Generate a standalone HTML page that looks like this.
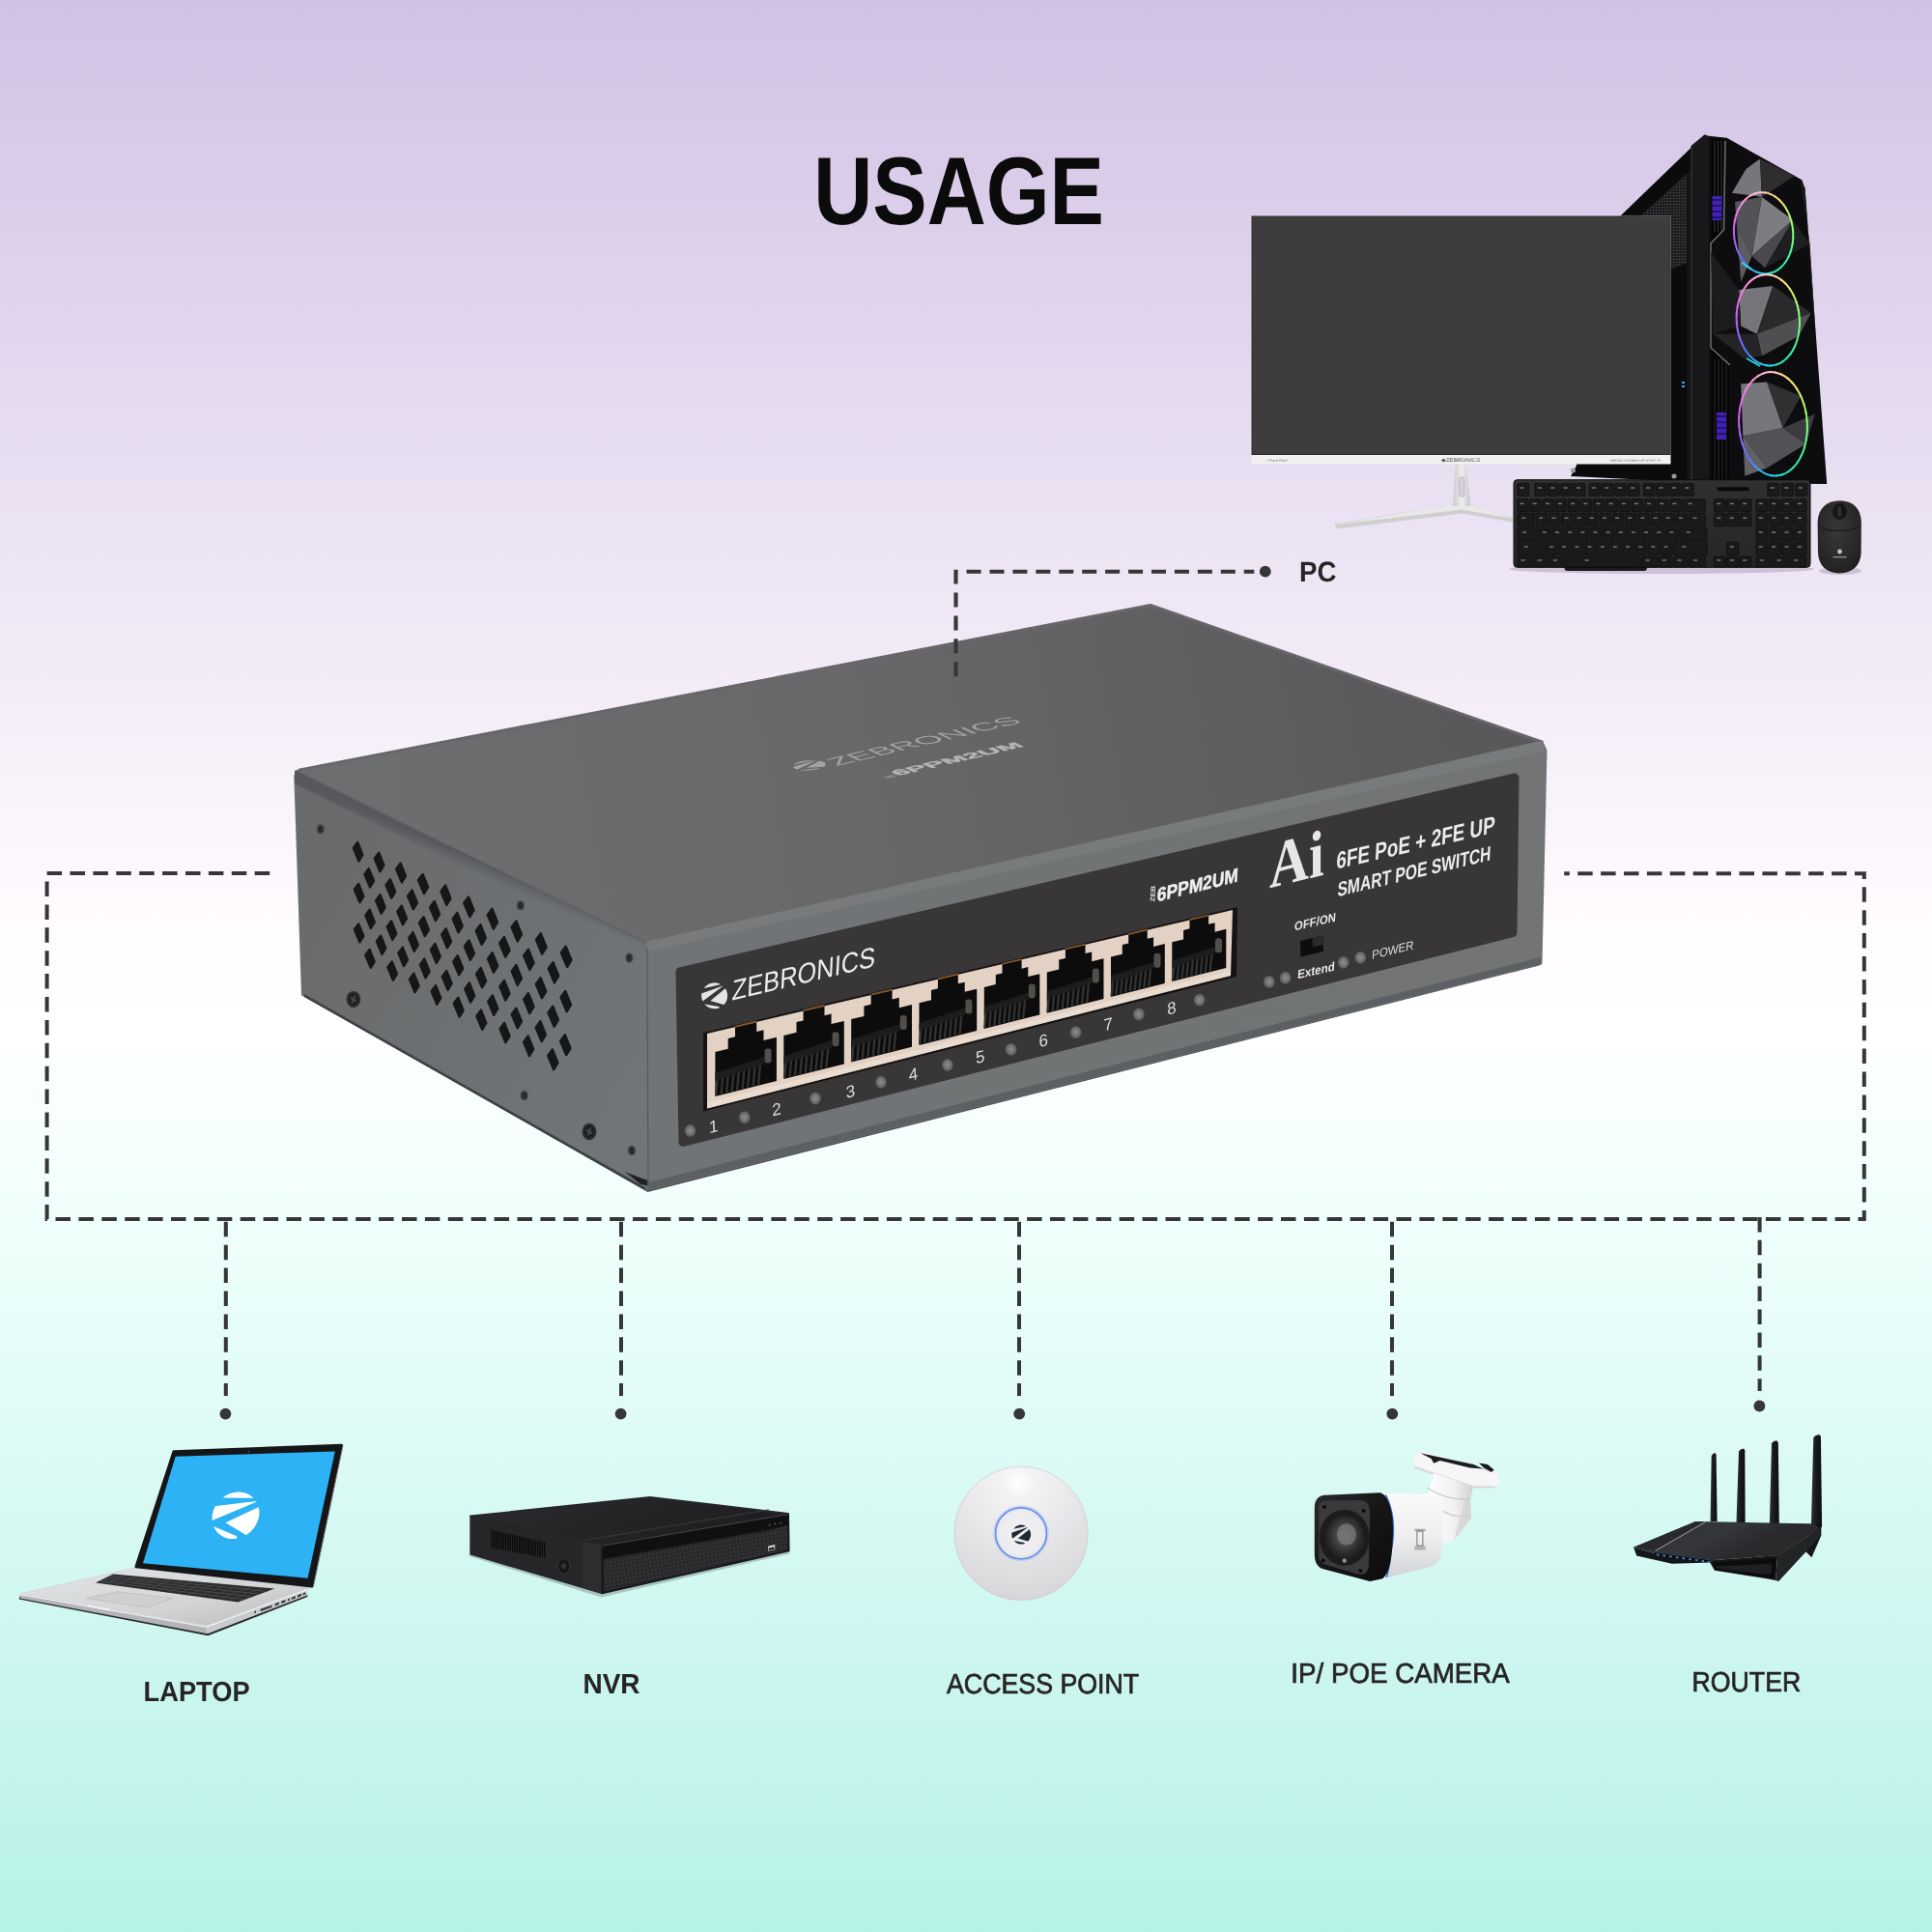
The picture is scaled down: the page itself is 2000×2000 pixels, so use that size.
<!DOCTYPE html>
<html><head><meta charset="utf-8"><title>Usage</title>
<style>
html,body{margin:0;padding:0;width:2000px;height:2000px;overflow:hidden;background:#fff;}
svg{display:block;font-family:"Liberation Sans",sans-serif;}
text{text-rendering:geometricPrecision;}
#all{will-change:transform;}
.serif{font-family:"Liberation Serif",serif;}
</style></head>
<body>
<svg width="2000" height="2000" viewBox="0 0 2000 2000">
<defs>
<linearGradient id="bg" x1="0" y1="0" x2="0" y2="1">
<stop offset="0" stop-color="#d1c1e4"/>
<stop offset="0.47" stop-color="#fefafe"/>
<stop offset="0.53" stop-color="#ffffff"/>
<stop offset="0.62" stop-color="#f1fffc"/>
<stop offset="1" stop-color="#b6f1e8"/>
</linearGradient>

<linearGradient id="swTop" gradientUnits="userSpaceOnUse" x1="400" y1="900" x2="1500" y2="700">
<stop offset="0" stop-color="#6d6e70"/><stop offset="0.45" stop-color="#68686a"/><stop offset="1" stop-color="#59585b"/>
</linearGradient>
<linearGradient id="swLeft" gradientUnits="userSpaceOnUse" x1="306" y1="900" x2="668" y2="1100">
<stop offset="0" stop-color="#686a6c"/><stop offset="1" stop-color="#727577"/>
</linearGradient>
<linearGradient id="swFront" gradientUnits="userSpaceOnUse" x1="668" y1="1100" x2="1600" y2="880">
<stop offset="0" stop-color="#707477"/><stop offset="1" stop-color="#727573"/>
</linearGradient>
<linearGradient id="swLeftSh" gradientUnits="userSpaceOnUse" x1="487" y1="887" x2="481" y2="901"><stop offset="0" stop-color="#55575a" stop-opacity="0.95"/><stop offset="1" stop-color="#5c5f62" stop-opacity="0"/></linearGradient>
<radialGradient id="led"><stop offset="0" stop-color="#8d8d8e"/><stop offset="0.7" stop-color="#6e6e70"/><stop offset="1" stop-color="#555557"/></radialGradient>
<radialGradient id="screw"><stop offset="0" stop-color="#2a2a2c"/><stop offset="0.6" stop-color="#1d1d1f"/><stop offset="1" stop-color="#3a3c3f"/></radialGradient>

<linearGradient id="kbBody" x1="0" y1="0" x2="0" y2="1"><stop offset="0" stop-color="#303030"/><stop offset="1" stop-color="#262626"/></linearGradient>
<radialGradient id="mouseG" cx="0.45" cy="0.4" r="0.8"><stop offset="0" stop-color="#383838"/><stop offset="0.65" stop-color="#262626"/><stop offset="1" stop-color="#141414"/></radialGradient>
<linearGradient id="standG" x1="0" y1="0" x2="1" y2="0"><stop offset="0" stop-color="#c9c9c9"/><stop offset="0.5" stop-color="#efefef"/><stop offset="1" stop-color="#c4c4c4"/></linearGradient>
<pattern id="mesh" width="3" height="3" patternUnits="userSpaceOnUse"><rect width="3" height="3" fill="#1c1c1e"/><circle cx="1.5" cy="1.5" r="0.8" fill="#4a4a4e"/></pattern>

<linearGradient id="lapBase" x1="0" y1="0" x2="1" y2="1"><stop offset="0" stop-color="#e4e5e6"/><stop offset="0.6" stop-color="#d2d3d5"/><stop offset="1" stop-color="#b9babc"/></linearGradient>
<linearGradient id="lapEdge" x1="0" y1="0" x2="1" y2="0"><stop offset="0" stop-color="#8f9092"/><stop offset="1" stop-color="#c9cacc"/></linearGradient>

<linearGradient id="nvrTop" x1="0" y1="0" x2="1" y2="0.3"><stop offset="0" stop-color="#2c2c2e"/><stop offset="1" stop-color="#1e1e20"/></linearGradient>
<pattern id="nvrTex" width="4" height="4" patternUnits="userSpaceOnUse" patternTransform="rotate(-10)"><rect width="4" height="4" fill="#242426"/><path d="M0 2L2 0L4 2L2 4Z" fill="#343437"/></pattern>

<radialGradient id="apG" cx="0.48" cy="0.12" r="0.95"><stop offset="0" stop-color="#ffffff"/><stop offset="0.12" stop-color="#f3f3f4"/><stop offset="0.55" stop-color="#e4e4e6"/><stop offset="0.85" stop-color="#dadadc"/><stop offset="1" stop-color="#d0d0d3"/></radialGradient>
<radialGradient id="apC"><stop offset="0" stop-color="#f2f2f3"/><stop offset="0.86" stop-color="#ececee"/><stop offset="1" stop-color="#dfe3f2"/></radialGradient>

<linearGradient id="camBody" x1="0" y1="0" x2="0" y2="1"><stop offset="0" stop-color="#fbfbfb"/><stop offset="0.55" stop-color="#ededee"/><stop offset="1" stop-color="#d2d3d5"/></linearGradient>
<linearGradient id="camFront" x1="0" y1="0" x2="1" y2="1"><stop offset="0" stop-color="#2a2a2c"/><stop offset="0.5" stop-color="#161617"/><stop offset="1" stop-color="#0c0c0d"/></linearGradient>
<radialGradient id="camLens" cx="0.5" cy="0.45" r="0.6"><stop offset="0" stop-color="#6a6a6e"/><stop offset="0.35" stop-color="#4a4a4d"/><stop offset="0.7" stop-color="#2a2a2c"/><stop offset="1" stop-color="#1a1a1b"/></radialGradient>
<linearGradient id="camArm" x1="0" y1="0" x2="1" y2="0"><stop offset="0" stop-color="#ffffff"/><stop offset="0.6" stop-color="#f0f0f1"/><stop offset="1" stop-color="#cfd0d2"/></linearGradient>

<linearGradient id="rtTop" x1="0" y1="0" x2="1" y2="0.4"><stop offset="0" stop-color="#2c2d30"/><stop offset="0.5" stop-color="#36373a"/><stop offset="1" stop-color="#1d1e20"/></linearGradient>
<linearGradient id="rtAnt" x1="0" y1="0" x2="1" y2="0"><stop offset="0" stop-color="#2e2f32"/><stop offset="0.5" stop-color="#17181a"/><stop offset="1" stop-color="#0e0e10"/></linearGradient>
<pattern id="rtHatch" width="2.4" height="2.4" patternUnits="userSpaceOnUse" patternTransform="rotate(-62)"><rect width="2.4" height="2.4" fill="#1c1d1f"/><rect width="1" height="2.4" fill="#3a3b3e"/></pattern>

</defs>
<rect width="2000" height="2000" fill="url(#bg)"/>
<g id="all">
<!-- TITLE -->
<text x="842.2" y="232" font-size="99.5" font-weight="700" fill="#0b0b0b" textLength="300.7" lengthAdjust="spacingAndGlyphs">USAGE</text>
<!-- LINES -->
<g fill="none" stroke="#363636" stroke-width="4" stroke-dasharray="15.5 8.4">
<path d="M279.2 904.1H48.6V1262.1H991.5"/>
<path d="M1619.2 904.2H1929.8V1262.1H991.3" stroke-dashoffset="9.9"/>
<path d="M233.8 1264.8V1445"/>
<path d="M643 1264.8V1445"/>
<path d="M1055 1264.8V1445"/>
<path d="M1441 1264.8V1445"/>
<path d="M1821.6 1259.9V1440"/>
</g>
<g fill="#363636">
<circle cx="1309.8" cy="591.7" r="5.9"/>
<circle cx="233.4" cy="1463.6" r="5.9"/>
<circle cx="642.6" cy="1463.6" r="5.9"/>
<circle cx="1055.2" cy="1463.6" r="5.9"/>
<circle cx="1441.3" cy="1463.6" r="5.9"/>
<circle cx="1821.4" cy="1455.5" r="5.9"/>
</g>
<!-- LABELS -->
<g fill="#272425" font-size="29">
<text x="1345.1" y="601.7" font-size="29.6" font-weight="700" textLength="38.4" lengthAdjust="spacingAndGlyphs">PC</text>
<text x="148.6" y="1760.5" font-weight="700" textLength="110" lengthAdjust="spacingAndGlyphs">LAPTOP</text>
<text x="603.4" y="1753.2" font-weight="700" textLength="59.2" lengthAdjust="spacingAndGlyphs">NVR</text>
<g stroke="#272425" stroke-width="0.7">
<text x="980" y="1753.2" textLength="199.2" lengthAdjust="spacingAndGlyphs">ACCESS POINT</text>
<text x="1336.3" y="1741.8" textLength="226.5" lengthAdjust="spacingAndGlyphs">IP/ POE CAMERA</text>
<text x="1751.6" y="1750.7" textLength="112.6" lengthAdjust="spacingAndGlyphs">ROUTER</text>
</g>
</g>
<g id="switch"><polygon points="313.0,1030.0 670.5,1234.0 1595.0,999.0 1595.0,991.0 670.5,1225.0" fill="#4b4e50"/><polygon points="306.4,798.6 307.9,798.9 669.5,976.0 670.5,1231.0 313.0,1030.0 305.3,803.8" fill="url(#swLeft)" stroke="#6b6e71" stroke-width="2" stroke-linejoin="round"/><polygon points="310.4,797.0 1191.0,626.5 1596.0,768.0 669.5,976.0 308.4,799.4 307.2,799.0" fill="url(#swTop)" stroke="#67676a" stroke-width="3" stroke-linejoin="round"/><polygon points="669.5,976.0 1596.0,768.0 1600.0,777.0 1595.0,997.0 670.5,1231.0" fill="url(#swFront)" stroke="#717477" stroke-width="3" stroke-linejoin="round"/><polygon points="669.5,975.0 1596.0,767.0 1600.0,778.0 670.5,985.0" fill="#7d7f81" opacity="0.6"/><polygon points="305.0,797.5 669.5,976.0 669.5,992.0 305.0,811.5" fill="url(#swLeftSh)"/><line x1="670.0" y1="982.0" x2="671.0" y2="1228.0" stroke="#575a5d" stroke-width="1.2"/><polygon points="646.7,1213.1 670.3,1222.1 670.3,1227.5 663,1225.8" fill="#1f2123"/><polygon points="315.0,1029.0 667.5,1229.0 667.5,1232.0 315.0,1032.0" fill="#3f4244"/><polygon points="670.5,1224.0 1595.0,991.0 1595.0,998.0 670.5,1232.0" fill="#5d6063"/><polygon points="704.0,1006.0 1568.0,805.0 1566.0,965.5 707.0,1182.5" fill="#383637" stroke="#383637" stroke-width="9" stroke-linejoin="round"/><polygon points="728.0,1069.0 1281.0,939.0 1280.0,1011.0 728.0,1150.5" fill="#151313"/><polygon points="732.0,1070.0 1276.0,942.0 1274.0,1010.0 732.0,1147.5" fill="#e3d1c4"/><polygon points="732.0,1141.5 1274.0,1005.0 1274.0,1010.0 732.0,1147.5" fill="#efe2d6" opacity="0.6"/><polygon points="740.4,1134.9 740.4,1088.9 753.7,1085.7 753.7,1074.9 761.0,1073.2 761.0,1062.8 783.2,1057.6 783.2,1067.9 790.5,1066.2 790.5,1076.9 803.9,1073.7 803.9,1119.0" fill="#0d0c0c"/><polygon points="761.0,1061.9 783.2,1056.6 783.2,1058.5 761.0,1063.7" fill="#8a5a2c"/><line x1="743.1" y1="1111.8" x2="741.1" y2="1134.0" stroke="#353434" stroke-width="2.2"/><line x1="748.6" y1="1110.4" x2="746.6" y2="1132.6" stroke="#353434" stroke-width="2.2"/><line x1="754.1" y1="1109.0" x2="752.1" y2="1131.2" stroke="#353434" stroke-width="2.2"/><line x1="759.6" y1="1107.7" x2="757.6" y2="1129.8" stroke="#353434" stroke-width="2.2"/><line x1="765.1" y1="1106.3" x2="763.1" y2="1128.4" stroke="#353434" stroke-width="2.2"/><line x1="770.6" y1="1105.0" x2="768.6" y2="1127.1" stroke="#353434" stroke-width="2.2"/><line x1="776.1" y1="1103.6" x2="774.1" y2="1125.7" stroke="#353434" stroke-width="2.2"/><line x1="781.6" y1="1102.3" x2="779.6" y2="1124.3" stroke="#353434" stroke-width="2.2"/><line x1="787.1" y1="1100.9" x2="785.1" y2="1122.9" stroke="#353434" stroke-width="2.2"/><polygon points="740.4,1110.6 791.2,1094.3 791.2,1101.9 740.4,1119.1" fill="#1f1e1e" opacity="0.9"/><rect x="791.5" y="1085.4" width="7.0" height="15.0" rx="3" fill="#524e4a"/><polygon points="811.3,1117.1 811.3,1071.9 824.5,1068.7 824.5,1058.1 831.6,1056.4 831.6,1046.2 853.5,1041.0 853.5,1051.2 860.6,1049.5 860.6,1060.0 873.8,1056.9 873.8,1101.4" fill="#0d0c0c"/><polygon points="831.6,1045.3 853.5,1040.1 853.5,1041.9 831.6,1047.1" fill="#8a5a2c"/><line x1="814.1" y1="1094.3" x2="812.1" y2="1116.2" stroke="#353434" stroke-width="2.2"/><line x1="819.5" y1="1093.0" x2="817.5" y2="1114.8" stroke="#353434" stroke-width="2.2"/><line x1="824.9" y1="1091.6" x2="822.9" y2="1113.5" stroke="#353434" stroke-width="2.2"/><line x1="830.3" y1="1090.3" x2="828.3" y2="1112.1" stroke="#353434" stroke-width="2.2"/><line x1="835.7" y1="1089.0" x2="833.7" y2="1110.7" stroke="#353434" stroke-width="2.2"/><line x1="841.1" y1="1087.6" x2="839.1" y2="1109.4" stroke="#353434" stroke-width="2.2"/><line x1="846.5" y1="1086.3" x2="844.5" y2="1108.0" stroke="#353434" stroke-width="2.2"/><line x1="851.9" y1="1085.0" x2="849.9" y2="1106.7" stroke="#353434" stroke-width="2.2"/><line x1="857.3" y1="1083.6" x2="855.3" y2="1105.3" stroke="#353434" stroke-width="2.2"/><polygon points="811.3,1093.2 861.3,1077.1 861.3,1084.7 811.3,1101.5" fill="#1f1e1e" opacity="0.9"/><rect x="861.5" y="1068.2" width="7.0" height="15.0" rx="3" fill="#524e4a"/><polygon points="881.2,1099.5 881.2,1055.1 894.4,1051.9 894.4,1041.5 901.6,1039.8 901.6,1029.7 923.6,1024.6 923.6,1034.5 930.8,1032.8 930.8,1043.2 944.0,1040.0 944.0,1083.8" fill="#0d0c0c"/><polygon points="901.6,1028.8 923.6,1023.7 923.6,1025.4 901.6,1030.6" fill="#8a5a2c"/><line x1="884.0" y1="1077.1" x2="882.0" y2="1098.6" stroke="#353434" stroke-width="2.2"/><line x1="889.4" y1="1075.7" x2="887.4" y2="1097.3" stroke="#353434" stroke-width="2.2"/><line x1="894.8" y1="1074.4" x2="892.8" y2="1095.9" stroke="#353434" stroke-width="2.2"/><line x1="900.3" y1="1073.1" x2="898.3" y2="1094.5" stroke="#353434" stroke-width="2.2"/><line x1="905.7" y1="1071.7" x2="903.7" y2="1093.2" stroke="#353434" stroke-width="2.2"/><line x1="911.1" y1="1070.4" x2="909.1" y2="1091.8" stroke="#353434" stroke-width="2.2"/><line x1="916.6" y1="1069.0" x2="914.6" y2="1090.4" stroke="#353434" stroke-width="2.2"/><line x1="922.0" y1="1067.7" x2="920.0" y2="1089.1" stroke="#353434" stroke-width="2.2"/><line x1="927.4" y1="1066.4" x2="925.4" y2="1087.7" stroke="#353434" stroke-width="2.2"/><polygon points="881.2,1076.0 931.4,1060.0 931.4,1067.4 881.2,1084.2" fill="#1f1e1e" opacity="0.9"/><rect x="931.7" y="1051.1" width="7.0" height="15.0" rx="3" fill="#524e4a"/><polygon points="951.5,1081.9 951.5,1038.2 964.0,1035.2 964.0,1024.9 970.9,1023.3 970.9,1013.4 991.8,1008.5 991.8,1018.3 998.7,1016.7 998.7,1026.8 1011.2,1023.8 1011.2,1066.9" fill="#0d0c0c"/><polygon points="970.9,1012.5 991.8,1007.6 991.8,1009.4 970.9,1014.3" fill="#8a5a2c"/><line x1="954.0" y1="1059.8" x2="952.0" y2="1081.0" stroke="#353434" stroke-width="2.2"/><line x1="959.2" y1="1058.5" x2="957.2" y2="1079.7" stroke="#353434" stroke-width="2.2"/><line x1="964.4" y1="1057.3" x2="962.4" y2="1078.4" stroke="#353434" stroke-width="2.2"/><line x1="969.6" y1="1056.0" x2="967.6" y2="1077.1" stroke="#353434" stroke-width="2.2"/><line x1="974.8" y1="1054.7" x2="972.8" y2="1075.8" stroke="#353434" stroke-width="2.2"/><line x1="980.0" y1="1053.4" x2="978.0" y2="1074.5" stroke="#353434" stroke-width="2.2"/><line x1="985.1" y1="1052.1" x2="983.1" y2="1073.2" stroke="#353434" stroke-width="2.2"/><line x1="990.3" y1="1050.9" x2="988.3" y2="1071.9" stroke="#353434" stroke-width="2.2"/><line x1="995.5" y1="1049.6" x2="993.5" y2="1070.6" stroke="#353434" stroke-width="2.2"/><polygon points="951.5,1058.8 999.3,1043.4 999.3,1050.7 951.5,1066.9" fill="#1f1e1e" opacity="0.9"/><rect x="999.4" y="1034.5" width="7.0" height="15.0" rx="3" fill="#524e4a"/><polygon points="1018.8,1065.0 1018.8,1022.0 1030.8,1019.1 1030.8,1009.0 1037.5,1007.5 1037.5,997.8 1057.6,993.0 1057.6,1002.7 1064.3,1001.1 1064.3,1011.1 1076.3,1008.2 1076.3,1050.5" fill="#0d0c0c"/><polygon points="1037.5,996.9 1057.6,992.2 1057.6,993.9 1037.5,998.6" fill="#8a5a2c"/><line x1="1021.2" y1="1043.2" x2="1019.2" y2="1064.2" stroke="#353434" stroke-width="2.2"/><line x1="1026.2" y1="1042.0" x2="1024.2" y2="1062.9" stroke="#353434" stroke-width="2.2"/><line x1="1031.2" y1="1040.8" x2="1029.2" y2="1061.7" stroke="#353434" stroke-width="2.2"/><line x1="1036.2" y1="1039.6" x2="1034.2" y2="1060.4" stroke="#353434" stroke-width="2.2"/><line x1="1041.2" y1="1038.3" x2="1039.2" y2="1059.1" stroke="#353434" stroke-width="2.2"/><line x1="1046.2" y1="1037.1" x2="1044.2" y2="1057.9" stroke="#353434" stroke-width="2.2"/><line x1="1051.2" y1="1035.9" x2="1049.2" y2="1056.6" stroke="#353434" stroke-width="2.2"/><line x1="1056.2" y1="1034.6" x2="1054.2" y2="1055.4" stroke="#353434" stroke-width="2.2"/><line x1="1061.2" y1="1033.4" x2="1059.2" y2="1054.1" stroke="#353434" stroke-width="2.2"/><polygon points="1018.8,1042.3 1064.8,1027.4 1064.8,1034.5 1018.8,1050.2" fill="#1f1e1e" opacity="0.9"/><rect x="1064.8" y="1018.5" width="7.0" height="15.0" rx="3" fill="#524e4a"/><polygon points="1083.8,1048.7 1083.8,1006.4 1096.2,1003.4 1096.2,993.5 1102.9,991.9 1102.9,982.4 1123.5,977.5 1123.5,987.0 1130.2,985.4 1130.2,995.2 1142.5,992.3 1142.5,1033.9" fill="#0d0c0c"/><polygon points="1102.9,981.5 1123.5,976.7 1123.5,978.4 1102.9,983.2" fill="#8a5a2c"/><line x1="1086.4" y1="1027.2" x2="1084.4" y2="1047.8" stroke="#353434" stroke-width="2.2"/><line x1="1091.5" y1="1025.9" x2="1089.5" y2="1046.5" stroke="#353434" stroke-width="2.2"/><line x1="1096.6" y1="1024.7" x2="1094.6" y2="1045.2" stroke="#353434" stroke-width="2.2"/><line x1="1101.7" y1="1023.4" x2="1099.7" y2="1044.0" stroke="#353434" stroke-width="2.2"/><line x1="1106.7" y1="1022.2" x2="1104.7" y2="1042.7" stroke="#353434" stroke-width="2.2"/><line x1="1111.8" y1="1020.9" x2="1109.8" y2="1041.4" stroke="#353434" stroke-width="2.2"/><line x1="1116.9" y1="1019.7" x2="1114.9" y2="1040.1" stroke="#353434" stroke-width="2.2"/><line x1="1122.0" y1="1018.4" x2="1120.0" y2="1038.9" stroke="#353434" stroke-width="2.2"/><line x1="1127.1" y1="1017.2" x2="1125.1" y2="1037.6" stroke="#353434" stroke-width="2.2"/><polygon points="1083.8,1026.3 1130.8,1011.2 1130.8,1018.3 1083.8,1034.1" fill="#1f1e1e" opacity="0.9"/><rect x="1130.8" y="1002.4" width="7.0" height="15.0" rx="3" fill="#524e4a"/><polygon points="1150.0,1032.0 1150.0,990.5 1161.8,987.7 1161.8,977.9 1168.2,976.4 1168.2,967.0 1187.7,962.4 1187.7,971.8 1194.1,970.2 1194.1,979.9 1205.8,977.1 1205.8,1018.0" fill="#0d0c0c"/><polygon points="1168.2,966.2 1187.7,961.6 1187.7,963.3 1168.2,967.9" fill="#8a5a2c"/><line x1="1152.5" y1="1010.9" x2="1150.5" y2="1031.2" stroke="#353434" stroke-width="2.2"/><line x1="1157.3" y1="1009.7" x2="1155.3" y2="1030.0" stroke="#353434" stroke-width="2.2"/><line x1="1162.1" y1="1008.5" x2="1160.1" y2="1028.8" stroke="#353434" stroke-width="2.2"/><line x1="1167.0" y1="1007.4" x2="1165.0" y2="1027.6" stroke="#353434" stroke-width="2.2"/><line x1="1171.8" y1="1006.2" x2="1169.8" y2="1026.4" stroke="#353434" stroke-width="2.2"/><line x1="1176.6" y1="1005.0" x2="1174.6" y2="1025.1" stroke="#353434" stroke-width="2.2"/><line x1="1181.5" y1="1003.8" x2="1179.5" y2="1023.9" stroke="#353434" stroke-width="2.2"/><line x1="1186.3" y1="1002.6" x2="1184.3" y2="1022.7" stroke="#353434" stroke-width="2.2"/><line x1="1191.2" y1="1001.4" x2="1189.2" y2="1021.5" stroke="#353434" stroke-width="2.2"/><polygon points="1150.0,1010.0 1194.7,995.6 1194.7,1002.5 1150.0,1017.7" fill="#1f1e1e" opacity="0.9"/><rect x="1194.5" y="986.8" width="7.0" height="15.0" rx="3" fill="#524e4a"/><polygon points="1213.3,1016.1 1213.3,975.3 1225.1,972.5 1225.1,962.9 1231.5,961.3 1231.5,952.1 1251.1,947.5 1251.1,956.7 1257.6,955.2 1257.6,964.7 1269.3,961.8 1269.3,1002.1" fill="#0d0c0c"/><polygon points="1231.5,951.3 1251.1,946.7 1251.1,948.3 1231.5,952.9" fill="#8a5a2c"/><line x1="1215.8" y1="995.3" x2="1213.8" y2="1015.3" stroke="#353434" stroke-width="2.2"/><line x1="1220.6" y1="994.1" x2="1218.6" y2="1014.1" stroke="#353434" stroke-width="2.2"/><line x1="1225.5" y1="992.9" x2="1223.5" y2="1012.9" stroke="#353434" stroke-width="2.2"/><line x1="1230.3" y1="991.7" x2="1228.3" y2="1011.7" stroke="#353434" stroke-width="2.2"/><line x1="1235.2" y1="990.6" x2="1233.2" y2="1010.5" stroke="#353434" stroke-width="2.2"/><line x1="1240.0" y1="989.4" x2="1238.0" y2="1009.2" stroke="#353434" stroke-width="2.2"/><line x1="1244.9" y1="988.2" x2="1242.9" y2="1008.0" stroke="#353434" stroke-width="2.2"/><line x1="1249.7" y1="987.0" x2="1247.7" y2="1006.8" stroke="#353434" stroke-width="2.2"/><line x1="1254.6" y1="985.8" x2="1252.6" y2="1005.6" stroke="#353434" stroke-width="2.2"/><polygon points="1213.3,994.5 1258.1,980.1 1258.1,986.9 1213.3,1002.0" fill="#1f1e1e" opacity="0.9"/><rect x="1258.0" y="971.3" width="7.0" height="15.0" rx="3" fill="#524e4a"/><ellipse cx="714.5" cy="1170.5" rx="5.8" ry="6.4" fill="url(#led)"/><ellipse cx="770.7" cy="1156.6" rx="5.8" ry="6.4" fill="url(#led)"/><ellipse cx="844.0" cy="1137.0" rx="5.8" ry="6.4" fill="url(#led)"/><ellipse cx="912.0" cy="1120.2" rx="5.8" ry="6.4" fill="url(#led)"/><ellipse cx="980.9" cy="1102.5" rx="5.8" ry="6.4" fill="url(#led)"/><ellipse cx="1046.6" cy="1086.3" rx="5.8" ry="6.4" fill="url(#led)"/><ellipse cx="1113.7" cy="1068.6" rx="5.8" ry="6.4" fill="url(#led)"/><ellipse cx="1178.9" cy="1050.0" rx="5.8" ry="6.4" fill="url(#led)"/><ellipse cx="1241.7" cy="1035.1" rx="5.8" ry="6.4" fill="url(#led)"/><ellipse cx="1313.8" cy="1016.4" rx="5.8" ry="6.4" fill="url(#led)"/><ellipse cx="1330.6" cy="1012.2" rx="5.8" ry="6.4" fill="url(#led)"/><ellipse cx="1390.7" cy="996.3" rx="5.8" ry="6.4" fill="url(#led)"/><ellipse cx="1408.3" cy="991.3" rx="5.8" ry="6.4" fill="url(#led)"/><text transform="matrix(0.97 -0.24 0.05 1 738.7 1165.9)" x="0" y="6.2" font-size="17.5" text-anchor="middle" fill="#dcdcdc">1</text><text transform="matrix(0.97 -0.24 0.05 1 803.9 1148.2)" x="0" y="6.2" font-size="17.5" text-anchor="middle" fill="#dcdcdc">2</text><text transform="matrix(0.97 -0.24 0.05 1 880.3 1129.6)" x="0" y="6.2" font-size="17.5" text-anchor="middle" fill="#dcdcdc">3</text><text transform="matrix(0.97 -0.24 0.05 1 945.5 1111.9)" x="0" y="6.2" font-size="17.5" text-anchor="middle" fill="#dcdcdc">4</text><text transform="matrix(0.97 -0.24 0.05 1 1014.7 1094.0)" x="0" y="6.2" font-size="17.5" text-anchor="middle" fill="#dcdcdc">5</text><text transform="matrix(0.97 -0.24 0.05 1 1080.1 1077.0)" x="0" y="6.2" font-size="17.5" text-anchor="middle" fill="#dcdcdc">6</text><text transform="matrix(0.97 -0.24 0.05 1 1147.2 1060.2)" x="0" y="6.2" font-size="17.5" text-anchor="middle" fill="#dcdcdc">7</text><text transform="matrix(0.97 -0.24 0.05 1 1213.0 1043.5)" x="0" y="6.2" font-size="17.5" text-anchor="middle" fill="#dcdcdc">8</text><g transform="translate(739.6 1030.8) rotate(-13.0) skewX(0.0) scale(0.270)"><clipPath id="zc1"><circle r="50"/></clipPath><g clip-path="url(#zc1)" fill="#e4e4e4"><path d="M-60 -60H60V-37.5Q0 -35.5 -60 -38.5Z"/><path d="M-60 -19L-44.3 -20.2Q-5 -24.5 40.5 -30.2L40.5 -28.6L-60 15.6Z"/><path d="M-19.7 15.4L60 -24.6V60.2Z"/><path d="M-60 17L7.9 44.2L9 60H-60Z"/></g></g><text transform="matrix(0.9724 -0.2334 -0.0523 0.9986 757.3 1035.8)" font-size="29.5" font-weight="400" fill="#ececec" textLength="152.5" lengthAdjust="spacingAndGlyphs" >ZEBRONICS</text><text transform="matrix(0.9703 -0.2419 -0.0523 0.9986 1197.6 933.4)" font-size="20.2" font-weight="700" fill="#efefef" textLength="86.5" lengthAdjust="spacingAndGlyphs" stroke="#efefef" stroke-width="0.5">6PPM2UM</text><text transform="matrix(0.05 -1 1 0.05 1195.3 933.6)" font-size="6.6" font-weight="700" fill="#e6e6e6" textLength="16.5" lengthAdjust="spacingAndGlyphs">ZEB</text><text transform="matrix(0.9703 -0.2419 -0.0000 1.0000 1313.9 919.6)" font-size="68.5" font-weight="700" fill="#e9e7e6" textLength="58.5" lengthAdjust="spacingAndGlyphs" class="serif" >Ai</text><text transform="matrix(0.9744 -0.2250 -0.0523 0.9986 1382.9 899.8)" font-size="25.0" font-weight="700" fill="#ececec" textLength="168.8" lengthAdjust="spacingAndGlyphs" >6FE PoE + 2FE UP</text><text transform="matrix(0.9728 -0.2317 -0.0523 0.9986 1384.2 928.2)" font-size="21.3" font-weight="700" fill="#ececec" textLength="163.3" lengthAdjust="spacingAndGlyphs" >SMART POE SWITCH</text><text transform="matrix(0.9744 -0.2250 -0.0523 0.9986 1339.8 963.5)" font-size="12.8" font-weight="700" fill="#e8e8e8" textLength="44.0" lengthAdjust="spacingAndGlyphs" >OFF/ON</text><text transform="matrix(0.9763 -0.2164 -0.0523 0.9986 1343.0 1013.2)" font-size="13.0" font-weight="700" fill="#e8e8e8" textLength="39.5" lengthAdjust="spacingAndGlyphs" >Extend</text><text transform="matrix(0.9724 -0.2334 -0.0523 0.9986 1420.0 992.9)" font-size="12.8" font-weight="400" fill="#dedede" textLength="44.5" lengthAdjust="spacingAndGlyphs" >POWER</text><polygon points="1346.0,974.0 1369.5,968.5 1370.0,985.0 1346.5,990.5" fill="#0e0d0d"/><polygon points="1358.5,971.3 1369.5,968.7 1369.8,978.0 1358.8,980.6" fill="#2c2a2a"/><g fill="#161718" stroke="#161718" stroke-width="2.4" stroke-linejoin="round"><polygon points="365.8,877.9 370.2,871.9 375.4,884.9 371.4,891.3"/><polygon points="387.7,888.6 392.2,882.6 397.4,895.7 393.4,902.2"/><polygon points="410.1,899.7 414.6,893.6 419.9,906.8 415.9,913.4"/><polygon points="433.0,911.0 437.6,904.9 443.0,918.3 438.9,925.0"/><polygon points="456.5,922.8 461.1,916.5 466.5,930.1 462.3,936.9"/><polygon points="480.3,934.8 485.0,928.5 490.5,942.2 486.3,949.1"/><polygon points="504.7,947.1 509.4,940.8 515.0,954.6 510.8,961.6"/><polygon points="529.6,959.8 534.4,953.4 540.0,967.4 535.7,974.4"/><polygon points="555.0,972.8 559.8,966.3 565.5,980.5 561.1,987.6"/><polygon points="580.8,986.2 585.7,979.6 591.5,993.9 587.1,1001.1"/><polygon points="377.4,905.1 381.8,899.1 387.0,912.0 383.1,918.5"/><polygon points="399.5,916.1 404.0,910.1 409.2,923.2 405.2,929.7"/><polygon points="422.1,927.5 426.6,921.4 431.9,934.6 427.8,941.3"/><polygon points="445.1,939.2 449.7,933.0 455.0,946.4 450.9,953.1"/><polygon points="468.7,951.2 473.3,945.0 478.7,958.6 474.5,965.3"/><polygon points="492.7,963.6 497.4,957.3 502.8,971.0 498.6,977.9"/><polygon points="517.2,976.3 521.9,969.9 527.5,983.8 523.2,990.7"/><polygon points="542.2,989.3 547.0,982.8 552.6,996.9 548.3,1003.9"/><polygon points="567.7,1002.6 572.6,996.1 578.2,1010.3 573.9,1017.4"/><polygon points="366.9,920.8 371.2,915.0 376.3,927.8 372.4,934.1"/><polygon points="389.1,932.2 393.5,926.3 398.7,939.2 394.7,945.7"/><polygon points="411.3,943.6 415.7,937.6 421.0,950.7 417.0,957.2"/><polygon points="434.0,955.3 438.5,949.2 443.8,962.5 439.7,969.1"/><polygon points="457.2,967.4 461.7,961.2 467.1,974.6 463.0,981.3"/><polygon points="480.9,979.7 485.5,973.5 490.9,987.0 486.7,993.8"/><polygon points="505.0,992.4 509.7,986.1 515.2,999.8 511.0,1006.7"/><polygon points="529.7,1005.4 534.4,999.0 540.0,1012.9 535.7,1019.8"/><polygon points="554.9,1018.7 559.6,1012.3 565.2,1026.3 560.9,1033.3"/><polygon points="580.5,1032.4 585.3,1025.9 591.0,1040.1 586.7,1047.2"/><polygon points="378.4,947.7 382.7,941.8 387.8,954.6 383.9,961.0"/><polygon points="400.7,959.4 405.1,953.5 410.3,966.4 406.3,972.9"/><polygon points="423.1,971.1 427.5,965.1 432.8,978.2 428.8,984.7"/><polygon points="445.9,983.1 450.4,977.0 455.7,990.3 451.7,996.9"/><polygon points="469.2,995.5 473.8,989.3 479.2,1002.7 475.1,1009.4"/><polygon points="493.1,1008.2 497.7,1002.0 503.1,1015.5 499.0,1022.3"/><polygon points="517.4,1021.2 522.0,1014.9 527.5,1028.6 523.3,1035.5"/><polygon points="542.2,1034.5 546.9,1028.2 552.5,1042.0 548.2,1049.0"/><polygon points="567.5,1048.2 572.3,1041.7 577.9,1055.8 573.6,1062.8"/><polygon points="366.9,962.2 371.2,956.4 376.3,969.0 372.4,975.3"/><polygon points="389.9,974.5 394.2,968.7 399.3,981.4 395.4,987.8"/><polygon points="412.4,986.6 416.8,980.6 422.0,993.6 418.0,1000.0"/><polygon points="434.9,998.6 439.3,992.6 444.6,1005.7 440.5,1012.2"/><polygon points="457.8,1011.0 462.3,1004.9 467.6,1018.1 463.6,1024.8"/><polygon points="481.3,1023.7 485.9,1017.5 491.2,1030.9 487.1,1037.6"/><polygon points="505.3,1036.7 509.9,1030.4 515.3,1044.0 511.2,1050.8"/><polygon points="529.7,1050.0 534.4,1043.7 539.9,1057.4 535.7,1064.3"/><polygon points="554.7,1063.7 559.4,1057.3 564.9,1071.2 560.7,1078.1"/><polygon points="580.1,1077.7 584.9,1071.2 590.5,1085.2 586.2,1092.2"/><polygon points="378.3,988.7 382.6,982.9 387.6,995.5 383.8,1001.8"/><polygon points="401.4,1001.4 405.7,995.5 410.9,1008.3 406.9,1014.7"/><polygon points="424.0,1013.8 428.4,1007.8 433.6,1020.7 429.6,1027.2"/><polygon points="446.6,1026.1 451.1,1020.1 456.3,1033.2 452.3,1039.7"/><polygon points="469.8,1038.8 474.3,1032.7 479.6,1046.0 475.5,1052.6"/><polygon points="493.4,1051.8 497.9,1045.6 503.3,1059.0 499.2,1065.8"/><polygon points="517.5,1065.1 522.1,1058.9 527.5,1072.5 523.4,1079.2"/><polygon points="542.1,1078.8 546.7,1072.5 552.2,1086.2 548.0,1093.1"/><polygon points="567.2,1092.8 571.9,1086.4 577.4,1100.3 573.2,1107.2"/></g><ellipse cx="365.9" cy="1034.5" rx="7.5" ry="8.8" fill="url(#screw)"/><path d="M362.9 1032.5l6.0 4.0M367.4 1030.5l-3.0 8.0" stroke="#4a4c4f" stroke-width="1.6"/><ellipse cx="610.0" cy="1171.5" rx="7.6" ry="9.0" fill="url(#screw)"/><path d="M607.0 1169.5l6.0 4.0M611.5 1167.5l-3.0 8.0" stroke="#4a4c4f" stroke-width="1.6"/><ellipse cx="331.8" cy="858.3" rx="3.6" ry="4.6" fill="#2a2c2e" stroke="#4d5154" stroke-width="1.4"/><ellipse cx="538.8" cy="937.3" rx="3.6" ry="4.6" fill="#2a2c2e" stroke="#4d5154" stroke-width="1.4"/><ellipse cx="651.4" cy="991.6" rx="3.6" ry="4.6" fill="#2a2c2e" stroke="#4d5154" stroke-width="1.4"/><ellipse cx="542.7" cy="1134.0" rx="3.6" ry="4.6" fill="#2a2c2e" stroke="#4d5154" stroke-width="1.4"/><ellipse cx="654.0" cy="1191.0" rx="3.6" ry="4.6" fill="#2a2c2e" stroke="#4d5154" stroke-width="1.4"/><text transform="matrix(0.9736 -0.2284 0.5582 0.2698 866.0 793.0)" font-size="34.0" font-weight="400" fill="#a0a0a2" textLength="199.0" lengthAdjust="spacingAndGlyphs">ZEBRONICS</text><text stroke="#b4b4b6" stroke-width="0.9" transform="matrix(0.9736 -0.2284 0.5582 0.2698 929.5 803.3)" font-size="24.0" font-weight="700" fill="#b4b4b6" textLength="135.0" lengthAdjust="spacingAndGlyphs">6PPM2UM</text><text transform="matrix(0.9736 -0.2284 0.5582 0.2698 918.0 806.0)" font-size="9.0" font-weight="700" fill="#a8a8a4" textLength="10.0" lengthAdjust="spacingAndGlyphs">ZEB</text><g transform="matrix(0.9736 -0.2284 0.5582 0.2698 844.5 795.5)"><g transform="scale(1)"><g transform="translate(0.0 -12.0) rotate(0.0) skewX(0.0) scale(0.300)"><clipPath id="zc2"><circle r="50"/></clipPath><g clip-path="url(#zc2)" fill="#a2a2a4"><path d="M-60 -60H60V-37.5Q0 -35.5 -60 -38.5Z"/><path d="M-60 -19L-44.3 -20.2Q-5 -24.5 40.5 -30.2L40.5 -28.6L-60 15.6Z"/><path d="M-19.7 15.4L60 -24.6V60.2Z"/><path d="M-60 17L7.9 44.2L9 60H-60Z"/></g></g></g></g></g><path d="M989.5 700.3V591.7H1298.3" fill="none" stroke="#363636" stroke-width="4.1" stroke-dasharray="15 8.93"/><g id="pc"><polygon points="1764.5,139.5 1679.0,222.0 1640.0,262.0 1632.0,482.0 1626.0,493.0 1769.0,500.0 1769.0,141.0" fill="#0b0b0c"/><polygon points="1746.0,180.0 1700.0,222.0 1700.0,278.0 1732.0,278.0 1746.0,272.0" fill="url(#mesh)"/><polygon points="1746.0,180.0 1750.5,176.0 1750.5,500.0 1746.0,500.0" fill="#141416"/><polygon points="1750.5,151.0 1764.5,139.5 1769.0,141.0 1769.0,500.0 1750.5,499.0" fill="#18181a"/><line x1="1751" y1="152" x2="1751" y2="498" stroke="#3a3a3d" stroke-width="1"/><polygon points="1769.0,140.7 1787.7,142.8 1865.3,186.3 1868.6,195.0 1891.2,501.0 1769.0,500.0" fill="#0d0d0f"/><polygon points="1772.0,143.0 1784.0,144.0 1784.0,236.0 1772.0,252.0" fill="#050506"/><line x1="1775.0" y1="146" x2="1775.0" y2="240" stroke="#3c3c40" stroke-width="0.9"/><line x1="1778.5" y1="146" x2="1778.5" y2="240" stroke="#3c3c40" stroke-width="0.9"/><line x1="1782.0" y1="146" x2="1782.0" y2="240" stroke="#3c3c40" stroke-width="0.9"/><polygon points="1772.0,362.0 1790.0,378.0 1790.0,499.0 1772.0,499.0" fill="#050506"/><line x1="1775.0" y1="372" x2="1775.0" y2="497" stroke="#2c2c30" stroke-width="0.9"/><line x1="1779.0" y1="372" x2="1779.0" y2="497" stroke="#2c2c30" stroke-width="0.9"/><line x1="1783.0" y1="372" x2="1783.0" y2="497" stroke="#2c2c30" stroke-width="0.9"/><line x1="1787.0" y1="372" x2="1787.0" y2="497" stroke="#2c2c30" stroke-width="0.9"/><rect x="1772.5" y="203" width="10" height="25" fill="#4a22c8" opacity="0.9"/><rect x="1777" y="427" width="10" height="28" fill="#4a22c8" opacity="0.9"/><line x1="1772" y1="207" x2="1783" y2="207" stroke="#120a40" stroke-width="1.2"/><line x1="1772" y1="213" x2="1783" y2="213" stroke="#120a40" stroke-width="1.2"/><line x1="1772" y1="219" x2="1783" y2="219" stroke="#120a40" stroke-width="1.2"/><line x1="1772" y1="225" x2="1783" y2="225" stroke="#120a40" stroke-width="1.2"/><line x1="1776" y1="431" x2="1788" y2="431" stroke="#120a40" stroke-width="1.2"/><line x1="1776" y1="437" x2="1788" y2="437" stroke="#120a40" stroke-width="1.2"/><line x1="1776" y1="443" x2="1788" y2="443" stroke="#120a40" stroke-width="1.2"/><line x1="1776" y1="449" x2="1788" y2="449" stroke="#120a40" stroke-width="1.2"/><polyline points="1786.0,146.0 1784.5,238.0 1771.0,252.0 1771.0,360.0 1791.0,378.0" fill="none" stroke="#6f6f74" stroke-width="1.5"/><polygon points="1807.4,174.9 1821.9,164.5 1823.9,203.9 1792.9,199.7" fill="#77777b" opacity="1"/><polygon points="1821.9,164.5 1858.1,182.1 1823.9,203.9" fill="#2e2e31" opacity="1"/><polygon points="1823.9,203.9 1856.0,227.7 1813.6,264.9" fill="#8a8a8e" opacity="0.9"/><polygon points="1823.9,203.9 1813.6,264.9 1798.1,235.9 1796.0,209.0" fill="#5b5b5f" opacity="0.9"/><polygon points="1813.6,264.9 1856.0,227.7 1827.0,277.3" fill="#4a4a4e" opacity="1"/><polygon points="1798.1,235.9 1813.6,264.9 1802.2,291.8" fill="#727276" opacity="0.8"/><polygon points="1856.0,227.7 1873.6,252.5 1827.0,277.3" fill="#1f1f22" opacity="1"/><polygon points="1800.1,300.1 1835.3,296.0 1818.8,345.7 1802.2,337.4" fill="#828286" opacity="0.9"/><polygon points="1835.3,296.0 1874.7,323.9 1818.8,345.7" fill="#2a2a2d" opacity="1"/><polygon points="1818.8,345.7 1874.7,323.9 1862.2,347.7 1823.9,368.4" fill="#56565a" opacity="0.9"/><polygon points="1773.2,345.7 1818.8,345.7 1823.9,368.4 1806.3,371.6" fill="#242427" opacity="1"/><polygon points="1771.1,260.8 1800.1,300.1 1802.2,337.4 1773.2,345.7" fill="#1c1c1f" opacity="1"/><polygon points="1802.2,397.4 1829.1,395.4 1845.7,443.0 1804.3,451.3" fill="#828287" opacity="0.9"/><polygon points="1829.1,395.4 1864.3,409.9 1845.7,443.0" fill="#303033" opacity="1"/><polygon points="1845.7,443.0 1869.5,459.5 1829.1,484.4 1804.3,451.3" fill="#5f5f63" opacity="0.85"/><polygon points="1845.7,443.0 1878.8,428.5 1869.5,459.5" fill="#3c3c40" opacity="1"/><polygon points="1804.3,451.3 1829.1,484.4 1806.3,492.7" fill="#77777b" opacity="0.8"/><polygon points="1864.3,188.3 1868.4,194.5 1880.9,368.4 1873.6,252.5" fill="#1e1e21" opacity="1"/><g transform="translate(1825.6 241.3) rotate(-5.0)" fill="none" stroke-width="2.0" stroke-linecap="butt"><path d="M-0.53 -42.19A30.6 42.2 0 0 1 5.84 -41.42" stroke="rgb(255,204,200)"/><path d="M4.79 -41.68A30.6 42.2 0 0 1 10.97 -39.40" stroke="rgb(255,212,171)"/><path d="M9.96 -39.90A30.6 42.2 0 0 1 15.76 -36.17" stroke="rgb(255,220,143)"/><path d="M14.84 -36.91A30.6 42.2 0 0 1 20.08 -31.85" stroke="rgb(255,228,114)"/><path d="M19.26 -32.80A30.6 42.2 0 0 1 23.78 -26.56" stroke="rgb(242,234,101)"/><path d="M23.09 -27.69A30.6 42.2 0 0 1 26.76 -20.46" stroke="rgb(218,238,105)"/><path d="M26.23 -21.73A30.6 42.2 0 0 1 28.93 -13.74" stroke="rgb(193,242,109)"/><path d="M28.57 -15.12A30.6 42.2 0 0 1 30.22 -6.60" stroke="rgb(169,246,112)"/><path d="M30.04 -8.05A30.6 42.2 0 0 1 30.60 0.74" stroke="rgb(144,250,116)"/><path d="M30.60 -0.74A30.6 42.2 0 0 1 30.04 8.05" stroke="rgb(120,255,120)"/><path d="M30.22 6.60A30.6 42.2 0 0 1 28.57 15.12" stroke="rgb(105,251,129)"/><path d="M28.93 13.74A30.6 42.2 0 0 1 26.23 21.73" stroke="rgb(90,247,138)"/><path d="M26.76 20.46A30.6 42.2 0 0 1 23.09 27.69" stroke="rgb(76,244,147)"/><path d="M23.78 26.56A30.6 42.2 0 0 1 19.26 32.80" stroke="rgb(61,240,156)"/><path d="M20.08 31.85A30.6 42.2 0 0 1 14.84 36.91" stroke="rgb(47,236,165)"/><path d="M15.76 36.17A30.6 42.2 0 0 1 9.96 39.90" stroke="rgb(40,232,178)"/><path d="M10.97 39.40A30.6 42.2 0 0 1 4.79 41.68" stroke="rgb(40,227,194)"/><path d="M5.84 41.42A30.6 42.2 0 0 1 -0.53 42.19" stroke="rgb(40,222,210)"/><path d="M0.53 42.19A30.6 42.2 0 0 1 -5.84 41.42" stroke="rgb(40,217,226)"/><path d="M-4.79 41.68A30.6 42.2 0 0 1 -10.97 39.40" stroke="rgb(45,203,237)"/><path d="M-9.96 39.90A30.6 42.2 0 0 1 -15.76 36.17" stroke="rgb(56,180,241)"/><path d="M-14.84 36.91A30.6 42.2 0 0 1 -20.08 31.85" stroke="rgb(67,156,246)"/><path d="M-19.26 32.80A30.6 42.2 0 0 1 -23.78 26.56" stroke="rgb(78,133,250)"/><path d="M-23.09 27.69A30.6 42.2 0 0 1 -26.76 20.46" stroke="rgb(90,110,255)"/><path d="M-26.23 21.73A30.6 42.2 0 0 1 -28.93 13.74" stroke="rgb(115,107,252)"/><path d="M-28.57 15.12A30.6 42.2 0 0 1 -30.22 6.60" stroke="rgb(140,104,249)"/><path d="M-30.04 8.05A30.6 42.2 0 0 1 -30.60 -0.74" stroke="rgb(165,101,246)"/><path d="M-30.60 0.74A30.6 42.2 0 0 1 -30.04 -8.05" stroke="rgb(190,98,243)"/><path d="M-30.22 -6.60A30.6 42.2 0 0 1 -28.57 -15.12" stroke="rgb(215,95,240)"/><path d="M-28.93 -13.74A30.6 42.2 0 0 1 -26.23 -21.73" stroke="rgb(223,107,233)"/><path d="M-26.76 -20.46A30.6 42.2 0 0 1 -23.09 -27.69" stroke="rgb(232,119,226)"/><path d="M-23.78 -26.56A30.6 42.2 0 0 1 -19.26 -32.80" stroke="rgb(241,131,220)"/><path d="M-20.08 -31.85A30.6 42.2 0 0 1 -14.84 -36.91" stroke="rgb(250,143,213)"/><path d="M-15.76 -36.17A30.6 42.2 0 0 1 -9.96 -39.90" stroke="rgb(255,158,210)"/><path d="M-10.97 -39.40A30.6 42.2 0 0 1 -4.79 -41.68" stroke="rgb(255,175,212)"/><path d="M-5.84 -41.42A30.6 42.2 0 0 1 0.53 -42.19" stroke="rgb(255,191,214)"/></g><g transform="translate(1830.3 331.4) rotate(-4.0)" fill="none" stroke-width="2.0" stroke-linecap="butt"><path d="M-0.57 -47.19A32.6 47.2 0 0 1 6.22 -46.33" stroke="rgb(255,204,200)"/><path d="M5.10 -46.62A32.6 47.2 0 0 1 11.68 -44.06" stroke="rgb(255,212,171)"/><path d="M10.61 -44.63A32.6 47.2 0 0 1 16.79 -40.46" stroke="rgb(255,220,143)"/><path d="M15.80 -41.28A32.6 47.2 0 0 1 21.39 -35.62" stroke="rgb(255,228,114)"/><path d="M20.52 -36.68A32.6 47.2 0 0 1 25.33 -29.70" stroke="rgb(242,234,101)"/><path d="M24.60 -30.97A32.6 47.2 0 0 1 28.51 -22.88" stroke="rgb(218,238,105)"/><path d="M27.94 -24.31A32.6 47.2 0 0 1 30.82 -15.37" stroke="rgb(193,242,109)"/><path d="M30.43 -16.91A32.6 47.2 0 0 1 32.20 -7.38" stroke="rgb(169,246,112)"/><path d="M32.00 -9.01A32.6 47.2 0 0 1 32.60 0.82" stroke="rgb(144,250,116)"/><path d="M32.60 -0.82A32.6 47.2 0 0 1 32.00 9.01" stroke="rgb(120,255,120)"/><path d="M32.20 7.38A32.6 47.2 0 0 1 30.43 16.91" stroke="rgb(105,251,129)"/><path d="M30.82 15.37A32.6 47.2 0 0 1 27.94 24.31" stroke="rgb(90,247,138)"/><path d="M28.51 22.88A32.6 47.2 0 0 1 24.60 30.97" stroke="rgb(76,244,147)"/><path d="M25.33 29.70A32.6 47.2 0 0 1 20.52 36.68" stroke="rgb(61,240,156)"/><path d="M21.39 35.62A32.6 47.2 0 0 1 15.80 41.28" stroke="rgb(47,236,165)"/><path d="M16.79 40.46A32.6 47.2 0 0 1 10.61 44.63" stroke="rgb(40,232,178)"/><path d="M11.68 44.06A32.6 47.2 0 0 1 5.10 46.62" stroke="rgb(40,227,194)"/><path d="M6.22 46.33A32.6 47.2 0 0 1 -0.57 47.19" stroke="rgb(40,222,210)"/><path d="M0.57 47.19A32.6 47.2 0 0 1 -6.22 46.33" stroke="rgb(40,217,226)"/><path d="M-5.10 46.62A32.6 47.2 0 0 1 -11.68 44.06" stroke="rgb(45,203,237)"/><path d="M-10.61 44.63A32.6 47.2 0 0 1 -16.79 40.46" stroke="rgb(56,180,241)"/><path d="M-15.80 41.28A32.6 47.2 0 0 1 -21.39 35.62" stroke="rgb(67,156,246)"/><path d="M-20.52 36.68A32.6 47.2 0 0 1 -25.33 29.70" stroke="rgb(78,133,250)"/><path d="M-24.60 30.97A32.6 47.2 0 0 1 -28.51 22.88" stroke="rgb(90,110,255)"/><path d="M-27.94 24.31A32.6 47.2 0 0 1 -30.82 15.37" stroke="rgb(115,107,252)"/><path d="M-30.43 16.91A32.6 47.2 0 0 1 -32.20 7.38" stroke="rgb(140,104,249)"/><path d="M-32.00 9.01A32.6 47.2 0 0 1 -32.60 -0.82" stroke="rgb(165,101,246)"/><path d="M-32.60 0.82A32.6 47.2 0 0 1 -32.00 -9.01" stroke="rgb(190,98,243)"/><path d="M-32.20 -7.38A32.6 47.2 0 0 1 -30.43 -16.91" stroke="rgb(215,95,240)"/><path d="M-30.82 -15.37A32.6 47.2 0 0 1 -27.94 -24.31" stroke="rgb(223,107,233)"/><path d="M-28.51 -22.88A32.6 47.2 0 0 1 -24.60 -30.97" stroke="rgb(232,119,226)"/><path d="M-25.33 -29.70A32.6 47.2 0 0 1 -20.52 -36.68" stroke="rgb(241,131,220)"/><path d="M-21.39 -35.62A32.6 47.2 0 0 1 -15.80 -41.28" stroke="rgb(250,143,213)"/><path d="M-16.79 -40.46A32.6 47.2 0 0 1 -10.61 -44.63" stroke="rgb(255,158,210)"/><path d="M-11.68 -44.06A32.6 47.2 0 0 1 -5.10 -46.62" stroke="rgb(255,175,212)"/><path d="M-6.22 -46.33A32.6 47.2 0 0 1 0.57 -47.19" stroke="rgb(255,191,214)"/></g><g transform="translate(1835.5 438.8) rotate(-4.0)" fill="none" stroke-width="2.0" stroke-linecap="butt"><path d="M-0.62 -53.79A35.3 53.8 0 0 1 6.74 -52.81" stroke="rgb(255,204,200)"/><path d="M5.52 -53.14A35.3 53.8 0 0 1 12.65 -50.23" stroke="rgb(255,212,171)"/><path d="M11.49 -50.87A35.3 53.8 0 0 1 18.18 -46.12" stroke="rgb(255,220,143)"/><path d="M17.11 -47.05A35.3 53.8 0 0 1 23.16 -40.60" stroke="rgb(255,228,114)"/><path d="M22.22 -41.81A35.3 53.8 0 0 1 27.43 -33.86" stroke="rgb(242,234,101)"/><path d="M26.64 -35.30A35.3 53.8 0 0 1 30.87 -26.08" stroke="rgb(218,238,105)"/><path d="M30.26 -27.71A35.3 53.8 0 0 1 33.38 -17.52" stroke="rgb(193,242,109)"/><path d="M32.96 -19.28A35.3 53.8 0 0 1 34.87 -8.42" stroke="rgb(169,246,112)"/><path d="M34.65 -10.27A35.3 53.8 0 0 1 35.29 0.94" stroke="rgb(144,250,116)"/><path d="M35.29 -0.94A35.3 53.8 0 0 1 34.65 10.27" stroke="rgb(120,255,120)"/><path d="M34.87 8.42A35.3 53.8 0 0 1 32.96 19.28" stroke="rgb(105,251,129)"/><path d="M33.38 17.52A35.3 53.8 0 0 1 30.26 27.71" stroke="rgb(90,247,138)"/><path d="M30.87 26.08A35.3 53.8 0 0 1 26.64 35.30" stroke="rgb(76,244,147)"/><path d="M27.43 33.86A35.3 53.8 0 0 1 22.22 41.81" stroke="rgb(61,240,156)"/><path d="M23.16 40.60A35.3 53.8 0 0 1 17.11 47.05" stroke="rgb(47,236,165)"/><path d="M18.18 46.12A35.3 53.8 0 0 1 11.49 50.87" stroke="rgb(40,232,178)"/><path d="M12.65 50.23A35.3 53.8 0 0 1 5.52 53.14" stroke="rgb(40,227,194)"/><path d="M6.74 52.81A35.3 53.8 0 0 1 -0.62 53.79" stroke="rgb(40,222,210)"/><path d="M0.62 53.79A35.3 53.8 0 0 1 -6.74 52.81" stroke="rgb(40,217,226)"/><path d="M-5.52 53.14A35.3 53.8 0 0 1 -12.65 50.23" stroke="rgb(45,203,237)"/><path d="M-11.49 50.87A35.3 53.8 0 0 1 -18.18 46.12" stroke="rgb(56,180,241)"/><path d="M-17.11 47.05A35.3 53.8 0 0 1 -23.16 40.60" stroke="rgb(67,156,246)"/><path d="M-22.22 41.81A35.3 53.8 0 0 1 -27.43 33.86" stroke="rgb(78,133,250)"/><path d="M-26.64 35.30A35.3 53.8 0 0 1 -30.87 26.08" stroke="rgb(90,110,255)"/><path d="M-30.26 27.71A35.3 53.8 0 0 1 -33.38 17.52" stroke="rgb(115,107,252)"/><path d="M-32.96 19.28A35.3 53.8 0 0 1 -34.87 8.42" stroke="rgb(140,104,249)"/><path d="M-34.65 10.27A35.3 53.8 0 0 1 -35.29 -0.94" stroke="rgb(165,101,246)"/><path d="M-35.29 0.94A35.3 53.8 0 0 1 -34.65 -10.27" stroke="rgb(190,98,243)"/><path d="M-34.87 -8.42A35.3 53.8 0 0 1 -32.96 -19.28" stroke="rgb(215,95,240)"/><path d="M-33.38 -17.52A35.3 53.8 0 0 1 -30.26 -27.71" stroke="rgb(223,107,233)"/><path d="M-30.87 -26.08A35.3 53.8 0 0 1 -26.64 -35.30" stroke="rgb(232,119,226)"/><path d="M-27.43 -33.86A35.3 53.8 0 0 1 -22.22 -41.81" stroke="rgb(241,131,220)"/><path d="M-23.16 -40.60A35.3 53.8 0 0 1 -17.11 -47.05" stroke="rgb(250,143,213)"/><path d="M-18.18 -46.12A35.3 53.8 0 0 1 -11.49 -50.87" stroke="rgb(255,158,210)"/><path d="M-12.65 -50.23A35.3 53.8 0 0 1 -5.52 -53.14" stroke="rgb(255,175,212)"/><path d="M-6.74 -52.81A35.3 53.8 0 0 1 0.62 -53.79" stroke="rgb(255,191,214)"/></g><path d="M1803 272l10 7" stroke="#30e0e0" stroke-width="1.6"/><path d="M1808 371l14 8" stroke="#30e0e0" stroke-width="1.6"/><circle cx="1628.5" cy="487" r="2.5" fill="#9a9a9a"/><circle cx="1733" cy="493" r="2.5" fill="#9a9a9a"/><rect x="1741" y="395" width="3" height="2" fill="#2aa8ff"/><rect x="1741" y="399" width="3" height="2" fill="#2aa8ff"/><polygon points="1505.4,522.0 1521.0,522.0 1567.0,536.6 1565.2,540.4 1513.4,531.5 1384.0,547.5 1381.2,542.6" fill="#cfcfcf"/><polygon points="1505.4,522.0 1521.0,522.0 1566.0,536.8 1513.4,527.5 1382.0,543.3" fill="#e9e9e9"/><polygon points="1506.8,479 1517.4,479 1522.3,524 1504.2,524" fill="url(#standG)"/><rect x="1510.6" y="493.7" width="5.2" height="20.5" rx="2.6" fill="#d9cfe3" stroke="#a9a9a9" stroke-width="0.7"/><rect x="1295.5" y="223.5" width="434" height="257" fill="#f1f1f1"/><rect x="1296" y="224" width="433" height="246.5" fill="#3d3d3d"/><rect x="1296" y="224" width="433" height="246.5" fill="none" stroke="#2c2c2c" stroke-width="1"/><text x="1492" y="478" font-size="5.5" fill="#555" textLength="40" lengthAdjust="spacingAndGlyphs">◆ZEBRONICS</text><text x="1310" y="477.5" font-size="4" fill="#777">◁ Pure Pixel</text><text x="1667" y="477.5" font-size="3.6" fill="#777" textLength="52" lengthAdjust="spacingAndGlyphs">MENU  DOWN  UP    EXIT    ⏻</text><ellipse cx="1720" cy="589" rx="158" ry="5" fill="#8a7f99" opacity="0.35"/><rect x="1619.5" y="570" width="85.5" height="21" rx="3" fill="#1b1b1b"/><rect x="1567.0" y="496.7" width="307.0" height="90.6" rx="3.5" fill="url(#kbBody)" stroke="#0a0a0a" stroke-width="1"/><text x="1645" y="584" font-size="4.6" fill="#c8c8c8" textLength="34" lengthAdjust="spacingAndGlyphs">◆ZEBRONICS</text><rect x="1570.7" y="500.4" width="12.0" height="13.0" rx="1.2" fill="#1a1a1a" stroke="#0c0c0c" stroke-width="0.6"/><rect x="1573.6" y="504.3" width="4.0" height="1.4" fill="#a5a5a5" opacity="0.7"/><rect x="1588.8" y="500.4" width="12.0" height="13.0" rx="1.2" fill="#1a1a1a" stroke="#0c0c0c" stroke-width="0.6"/><rect x="1591.8" y="504.3" width="4.0" height="1.4" fill="#a5a5a5" opacity="0.7"/><rect x="1602.2" y="500.4" width="12.0" height="13.0" rx="1.2" fill="#1a1a1a" stroke="#0c0c0c" stroke-width="0.6"/><rect x="1605.2" y="504.3" width="4.0" height="1.4" fill="#a5a5a5" opacity="0.7"/><rect x="1615.6" y="500.4" width="12.0" height="13.0" rx="1.2" fill="#1a1a1a" stroke="#0c0c0c" stroke-width="0.6"/><rect x="1618.6" y="504.3" width="4.0" height="1.4" fill="#a5a5a5" opacity="0.7"/><rect x="1629.0" y="500.4" width="12.0" height="13.0" rx="1.2" fill="#1a1a1a" stroke="#0c0c0c" stroke-width="0.6"/><rect x="1632.0" y="504.3" width="4.0" height="1.4" fill="#a5a5a5" opacity="0.7"/><rect x="1644.9" y="500.4" width="12.0" height="13.0" rx="1.2" fill="#1a1a1a" stroke="#0c0c0c" stroke-width="0.6"/><rect x="1647.9" y="504.3" width="4.0" height="1.4" fill="#a5a5a5" opacity="0.7"/><rect x="1658.3" y="500.4" width="12.0" height="13.0" rx="1.2" fill="#1a1a1a" stroke="#0c0c0c" stroke-width="0.6"/><rect x="1661.3" y="504.3" width="4.0" height="1.4" fill="#a5a5a5" opacity="0.7"/><rect x="1671.7" y="500.4" width="12.0" height="13.0" rx="1.2" fill="#1a1a1a" stroke="#0c0c0c" stroke-width="0.6"/><rect x="1674.7" y="504.3" width="4.0" height="1.4" fill="#a5a5a5" opacity="0.7"/><rect x="1685.1" y="500.4" width="12.0" height="13.0" rx="1.2" fill="#1a1a1a" stroke="#0c0c0c" stroke-width="0.6"/><rect x="1688.1" y="504.3" width="4.0" height="1.4" fill="#a5a5a5" opacity="0.7"/><rect x="1701.1" y="500.4" width="12.0" height="13.0" rx="1.2" fill="#1a1a1a" stroke="#0c0c0c" stroke-width="0.6"/><rect x="1704.1" y="504.3" width="4.0" height="1.4" fill="#a5a5a5" opacity="0.7"/><rect x="1714.5" y="500.4" width="12.0" height="13.0" rx="1.2" fill="#1a1a1a" stroke="#0c0c0c" stroke-width="0.6"/><rect x="1717.5" y="504.3" width="4.0" height="1.4" fill="#a5a5a5" opacity="0.7"/><rect x="1727.9" y="500.4" width="12.0" height="13.0" rx="1.2" fill="#1a1a1a" stroke="#0c0c0c" stroke-width="0.6"/><rect x="1730.9" y="504.3" width="4.0" height="1.4" fill="#a5a5a5" opacity="0.7"/><rect x="1741.3" y="500.4" width="12.0" height="13.0" rx="1.2" fill="#1a1a1a" stroke="#0c0c0c" stroke-width="0.6"/><rect x="1744.3" y="504.3" width="4.0" height="1.4" fill="#a5a5a5" opacity="0.7"/><rect x="1829.7" y="500.4" width="12.3" height="13.0" rx="1.2" fill="#1a1a1a" stroke="#0c0c0c" stroke-width="0.6"/><rect x="1832.8" y="504.3" width="4.0" height="1.4" fill="#a5a5a5" opacity="0.7"/><rect x="1844.2" y="500.4" width="12.3" height="13.0" rx="1.2" fill="#1a1a1a" stroke="#0c0c0c" stroke-width="0.6"/><rect x="1847.3" y="504.3" width="4.0" height="1.4" fill="#a5a5a5" opacity="0.7"/><rect x="1858.7" y="500.4" width="12.3" height="13.0" rx="1.2" fill="#1a1a1a" stroke="#0c0c0c" stroke-width="0.6"/><rect x="1861.8" y="504.3" width="4.0" height="1.4" fill="#a5a5a5" opacity="0.7"/><rect x="1570.7" y="516.7" width="11.6" height="13.4" rx="1.2" fill="#1a1a1a" stroke="#0c0c0c" stroke-width="0.6"/><rect x="1573.6" y="520.7" width="4.0" height="1.4" fill="#a5a5a5" opacity="0.7"/><rect x="1583.8" y="516.7" width="11.6" height="13.4" rx="1.2" fill="#1a1a1a" stroke="#0c0c0c" stroke-width="0.6"/><rect x="1586.7" y="520.7" width="4.0" height="1.4" fill="#a5a5a5" opacity="0.7"/><rect x="1597.0" y="516.7" width="11.6" height="13.4" rx="1.2" fill="#1a1a1a" stroke="#0c0c0c" stroke-width="0.6"/><rect x="1599.9" y="520.7" width="4.0" height="1.4" fill="#a5a5a5" opacity="0.7"/><rect x="1610.1" y="516.7" width="11.6" height="13.4" rx="1.2" fill="#1a1a1a" stroke="#0c0c0c" stroke-width="0.6"/><rect x="1613.0" y="520.7" width="4.0" height="1.4" fill="#a5a5a5" opacity="0.7"/><rect x="1623.3" y="516.7" width="11.6" height="13.4" rx="1.2" fill="#1a1a1a" stroke="#0c0c0c" stroke-width="0.6"/><rect x="1626.2" y="520.7" width="4.0" height="1.4" fill="#a5a5a5" opacity="0.7"/><rect x="1636.4" y="516.7" width="11.6" height="13.4" rx="1.2" fill="#1a1a1a" stroke="#0c0c0c" stroke-width="0.6"/><rect x="1639.3" y="520.7" width="4.0" height="1.4" fill="#a5a5a5" opacity="0.7"/><rect x="1649.6" y="516.7" width="11.6" height="13.4" rx="1.2" fill="#1a1a1a" stroke="#0c0c0c" stroke-width="0.6"/><rect x="1652.5" y="520.7" width="4.0" height="1.4" fill="#a5a5a5" opacity="0.7"/><rect x="1662.7" y="516.7" width="11.6" height="13.4" rx="1.2" fill="#1a1a1a" stroke="#0c0c0c" stroke-width="0.6"/><rect x="1665.6" y="520.7" width="4.0" height="1.4" fill="#a5a5a5" opacity="0.7"/><rect x="1675.9" y="516.7" width="11.6" height="13.4" rx="1.2" fill="#1a1a1a" stroke="#0c0c0c" stroke-width="0.6"/><rect x="1678.8" y="520.7" width="4.0" height="1.4" fill="#a5a5a5" opacity="0.7"/><rect x="1689.0" y="516.7" width="11.6" height="13.4" rx="1.2" fill="#1a1a1a" stroke="#0c0c0c" stroke-width="0.6"/><rect x="1691.9" y="520.7" width="4.0" height="1.4" fill="#a5a5a5" opacity="0.7"/><rect x="1702.2" y="516.7" width="11.6" height="13.4" rx="1.2" fill="#1a1a1a" stroke="#0c0c0c" stroke-width="0.6"/><rect x="1705.1" y="520.7" width="4.0" height="1.4" fill="#a5a5a5" opacity="0.7"/><rect x="1715.3" y="516.7" width="11.6" height="13.4" rx="1.2" fill="#1a1a1a" stroke="#0c0c0c" stroke-width="0.6"/><rect x="1718.2" y="520.7" width="4.0" height="1.4" fill="#a5a5a5" opacity="0.7"/><rect x="1728.5" y="516.7" width="11.6" height="13.4" rx="1.2" fill="#1a1a1a" stroke="#0c0c0c" stroke-width="0.6"/><rect x="1731.4" y="520.7" width="4.0" height="1.4" fill="#a5a5a5" opacity="0.7"/><rect x="1741.6" y="516.7" width="23.9" height="13.4" rx="1.2" fill="#1a1a1a" stroke="#0c0c0c" stroke-width="0.6"/><rect x="1747.6" y="520.7" width="4.0" height="1.4" fill="#a5a5a5" opacity="0.7"/><rect x="1570.7" y="531.5" width="18.1" height="13.4" rx="1.2" fill="#1a1a1a" stroke="#0c0c0c" stroke-width="0.6"/><rect x="1575.2" y="535.5" width="4.0" height="1.4" fill="#a5a5a5" opacity="0.7"/><rect x="1590.3" y="531.5" width="11.6" height="13.4" rx="1.2" fill="#1a1a1a" stroke="#0c0c0c" stroke-width="0.6"/><rect x="1593.2" y="535.5" width="4.0" height="1.4" fill="#a5a5a5" opacity="0.7"/><rect x="1603.5" y="531.5" width="11.6" height="13.4" rx="1.2" fill="#1a1a1a" stroke="#0c0c0c" stroke-width="0.6"/><rect x="1606.4" y="535.5" width="4.0" height="1.4" fill="#a5a5a5" opacity="0.7"/><rect x="1616.6" y="531.5" width="11.6" height="13.4" rx="1.2" fill="#1a1a1a" stroke="#0c0c0c" stroke-width="0.6"/><rect x="1619.5" y="535.5" width="4.0" height="1.4" fill="#a5a5a5" opacity="0.7"/><rect x="1629.8" y="531.5" width="11.6" height="13.4" rx="1.2" fill="#1a1a1a" stroke="#0c0c0c" stroke-width="0.6"/><rect x="1632.7" y="535.5" width="4.0" height="1.4" fill="#a5a5a5" opacity="0.7"/><rect x="1642.9" y="531.5" width="11.6" height="13.4" rx="1.2" fill="#1a1a1a" stroke="#0c0c0c" stroke-width="0.6"/><rect x="1645.8" y="535.5" width="4.0" height="1.4" fill="#a5a5a5" opacity="0.7"/><rect x="1656.1" y="531.5" width="11.6" height="13.4" rx="1.2" fill="#1a1a1a" stroke="#0c0c0c" stroke-width="0.6"/><rect x="1659.0" y="535.5" width="4.0" height="1.4" fill="#a5a5a5" opacity="0.7"/><rect x="1669.2" y="531.5" width="11.6" height="13.4" rx="1.2" fill="#1a1a1a" stroke="#0c0c0c" stroke-width="0.6"/><rect x="1672.1" y="535.5" width="4.0" height="1.4" fill="#a5a5a5" opacity="0.7"/><rect x="1682.4" y="531.5" width="11.6" height="13.4" rx="1.2" fill="#1a1a1a" stroke="#0c0c0c" stroke-width="0.6"/><rect x="1685.3" y="535.5" width="4.0" height="1.4" fill="#a5a5a5" opacity="0.7"/><rect x="1695.5" y="531.5" width="11.6" height="13.4" rx="1.2" fill="#1a1a1a" stroke="#0c0c0c" stroke-width="0.6"/><rect x="1698.4" y="535.5" width="4.0" height="1.4" fill="#a5a5a5" opacity="0.7"/><rect x="1708.7" y="531.5" width="11.6" height="13.4" rx="1.2" fill="#1a1a1a" stroke="#0c0c0c" stroke-width="0.6"/><rect x="1711.6" y="535.5" width="4.0" height="1.4" fill="#a5a5a5" opacity="0.7"/><rect x="1721.8" y="531.5" width="11.6" height="13.4" rx="1.2" fill="#1a1a1a" stroke="#0c0c0c" stroke-width="0.6"/><rect x="1724.7" y="535.5" width="4.0" height="1.4" fill="#a5a5a5" opacity="0.7"/><rect x="1735.0" y="531.5" width="11.6" height="13.4" rx="1.2" fill="#1a1a1a" stroke="#0c0c0c" stroke-width="0.6"/><rect x="1737.9" y="535.5" width="4.0" height="1.4" fill="#a5a5a5" opacity="0.7"/><rect x="1748.2" y="531.5" width="17.4" height="13.4" rx="1.2" fill="#1a1a1a" stroke="#0c0c0c" stroke-width="0.6"/><rect x="1752.5" y="535.5" width="4.0" height="1.4" fill="#a5a5a5" opacity="0.7"/><rect x="1570.7" y="546.4" width="21.7" height="13.4" rx="1.2" fill="#1a1a1a" stroke="#0c0c0c" stroke-width="0.6"/><rect x="1576.1" y="550.4" width="4.0" height="1.4" fill="#a5a5a5" opacity="0.7"/><rect x="1593.9" y="546.4" width="11.6" height="13.4" rx="1.2" fill="#1a1a1a" stroke="#0c0c0c" stroke-width="0.6"/><rect x="1596.8" y="550.4" width="4.0" height="1.4" fill="#a5a5a5" opacity="0.7"/><rect x="1607.1" y="546.4" width="11.6" height="13.4" rx="1.2" fill="#1a1a1a" stroke="#0c0c0c" stroke-width="0.6"/><rect x="1610.0" y="550.4" width="4.0" height="1.4" fill="#a5a5a5" opacity="0.7"/><rect x="1620.3" y="546.4" width="11.6" height="13.4" rx="1.2" fill="#1a1a1a" stroke="#0c0c0c" stroke-width="0.6"/><rect x="1623.2" y="550.4" width="4.0" height="1.4" fill="#a5a5a5" opacity="0.7"/><rect x="1633.4" y="546.4" width="11.6" height="13.4" rx="1.2" fill="#1a1a1a" stroke="#0c0c0c" stroke-width="0.6"/><rect x="1636.3" y="550.4" width="4.0" height="1.4" fill="#a5a5a5" opacity="0.7"/><rect x="1646.6" y="546.4" width="11.6" height="13.4" rx="1.2" fill="#1a1a1a" stroke="#0c0c0c" stroke-width="0.6"/><rect x="1649.5" y="550.4" width="4.0" height="1.4" fill="#a5a5a5" opacity="0.7"/><rect x="1659.7" y="546.4" width="11.6" height="13.4" rx="1.2" fill="#1a1a1a" stroke="#0c0c0c" stroke-width="0.6"/><rect x="1662.6" y="550.4" width="4.0" height="1.4" fill="#a5a5a5" opacity="0.7"/><rect x="1672.9" y="546.4" width="11.6" height="13.4" rx="1.2" fill="#1a1a1a" stroke="#0c0c0c" stroke-width="0.6"/><rect x="1675.8" y="550.4" width="4.0" height="1.4" fill="#a5a5a5" opacity="0.7"/><rect x="1686.0" y="546.4" width="11.6" height="13.4" rx="1.2" fill="#1a1a1a" stroke="#0c0c0c" stroke-width="0.6"/><rect x="1688.9" y="550.4" width="4.0" height="1.4" fill="#a5a5a5" opacity="0.7"/><rect x="1699.2" y="546.4" width="11.6" height="13.4" rx="1.2" fill="#1a1a1a" stroke="#0c0c0c" stroke-width="0.6"/><rect x="1702.1" y="550.4" width="4.0" height="1.4" fill="#a5a5a5" opacity="0.7"/><rect x="1712.3" y="546.4" width="11.6" height="13.4" rx="1.2" fill="#1a1a1a" stroke="#0c0c0c" stroke-width="0.6"/><rect x="1715.2" y="550.4" width="4.0" height="1.4" fill="#a5a5a5" opacity="0.7"/><rect x="1725.5" y="546.4" width="11.6" height="13.4" rx="1.2" fill="#1a1a1a" stroke="#0c0c0c" stroke-width="0.6"/><rect x="1728.4" y="550.4" width="4.0" height="1.4" fill="#a5a5a5" opacity="0.7"/><rect x="1738.6" y="546.4" width="28.3" height="13.4" rx="1.2" fill="#1a1a1a" stroke="#0c0c0c" stroke-width="0.6"/><rect x="1745.7" y="550.4" width="4.0" height="1.4" fill="#a5a5a5" opacity="0.7"/><rect x="1570.7" y="561.2" width="29.0" height="13.4" rx="1.2" fill="#1a1a1a" stroke="#0c0c0c" stroke-width="0.6"/><rect x="1577.9" y="565.3" width="4.0" height="1.4" fill="#a5a5a5" opacity="0.7"/><rect x="1601.2" y="561.2" width="11.6" height="13.4" rx="1.2" fill="#1a1a1a" stroke="#0c0c0c" stroke-width="0.6"/><rect x="1604.1" y="565.3" width="4.0" height="1.4" fill="#a5a5a5" opacity="0.7"/><rect x="1614.3" y="561.2" width="11.6" height="13.4" rx="1.2" fill="#1a1a1a" stroke="#0c0c0c" stroke-width="0.6"/><rect x="1617.2" y="565.3" width="4.0" height="1.4" fill="#a5a5a5" opacity="0.7"/><rect x="1627.5" y="561.2" width="11.6" height="13.4" rx="1.2" fill="#1a1a1a" stroke="#0c0c0c" stroke-width="0.6"/><rect x="1630.4" y="565.3" width="4.0" height="1.4" fill="#a5a5a5" opacity="0.7"/><rect x="1640.7" y="561.2" width="11.6" height="13.4" rx="1.2" fill="#1a1a1a" stroke="#0c0c0c" stroke-width="0.6"/><rect x="1643.6" y="565.3" width="4.0" height="1.4" fill="#a5a5a5" opacity="0.7"/><rect x="1653.8" y="561.2" width="11.6" height="13.4" rx="1.2" fill="#1a1a1a" stroke="#0c0c0c" stroke-width="0.6"/><rect x="1656.7" y="565.3" width="4.0" height="1.4" fill="#a5a5a5" opacity="0.7"/><rect x="1667.0" y="561.2" width="11.6" height="13.4" rx="1.2" fill="#1a1a1a" stroke="#0c0c0c" stroke-width="0.6"/><rect x="1669.9" y="565.3" width="4.0" height="1.4" fill="#a5a5a5" opacity="0.7"/><rect x="1680.1" y="561.2" width="11.6" height="13.4" rx="1.2" fill="#1a1a1a" stroke="#0c0c0c" stroke-width="0.6"/><rect x="1683.0" y="565.3" width="4.0" height="1.4" fill="#a5a5a5" opacity="0.7"/><rect x="1693.3" y="561.2" width="11.6" height="13.4" rx="1.2" fill="#1a1a1a" stroke="#0c0c0c" stroke-width="0.6"/><rect x="1696.2" y="565.3" width="4.0" height="1.4" fill="#a5a5a5" opacity="0.7"/><rect x="1706.4" y="561.2" width="11.6" height="13.4" rx="1.2" fill="#1a1a1a" stroke="#0c0c0c" stroke-width="0.6"/><rect x="1709.3" y="565.3" width="4.0" height="1.4" fill="#a5a5a5" opacity="0.7"/><rect x="1719.6" y="561.2" width="11.6" height="13.4" rx="1.2" fill="#1a1a1a" stroke="#0c0c0c" stroke-width="0.6"/><rect x="1722.5" y="565.3" width="4.0" height="1.4" fill="#a5a5a5" opacity="0.7"/><rect x="1732.7" y="561.2" width="34.8" height="13.4" rx="1.2" fill="#1a1a1a" stroke="#0c0c0c" stroke-width="0.6"/><rect x="1741.4" y="565.3" width="4.0" height="1.4" fill="#a5a5a5" opacity="0.7"/><rect x="1570.7" y="576.1" width="15.9" height="10.9" rx="1.2" fill="#1a1a1a" stroke="#0c0c0c" stroke-width="0.6"/><rect x="1574.6" y="579.3" width="4.0" height="1.4" fill="#a5a5a5" opacity="0.7"/><rect x="1588.0" y="576.1" width="14.5" height="10.9" rx="1.2" fill="#1a1a1a" stroke="#0c0c0c" stroke-width="0.6"/><rect x="1591.7" y="579.3" width="4.0" height="1.4" fill="#a5a5a5" opacity="0.7"/><rect x="1604.0" y="576.1" width="15.9" height="10.9" rx="1.2" fill="#1a1a1a" stroke="#0c0c0c" stroke-width="0.6"/><rect x="1608.0" y="579.3" width="4.0" height="1.4" fill="#a5a5a5" opacity="0.7"/><rect x="1621.4" y="576.1" width="76.8" height="10.9" rx="1.2" fill="#1a1a1a" stroke="#0c0c0c" stroke-width="0.6"/><rect x="1640.6" y="579.3" width="4.0" height="1.4" fill="#a5a5a5" opacity="0.7"/><rect x="1699.6" y="576.1" width="15.9" height="10.9" rx="1.2" fill="#1a1a1a" stroke="#0c0c0c" stroke-width="0.6"/><rect x="1703.6" y="579.3" width="4.0" height="1.4" fill="#a5a5a5" opacity="0.7"/><rect x="1717.0" y="576.1" width="14.5" height="10.9" rx="1.2" fill="#1a1a1a" stroke="#0c0c0c" stroke-width="0.6"/><rect x="1720.7" y="579.3" width="4.0" height="1.4" fill="#a5a5a5" opacity="0.7"/><rect x="1733.0" y="576.1" width="14.5" height="10.9" rx="1.2" fill="#1a1a1a" stroke="#0c0c0c" stroke-width="0.6"/><rect x="1736.6" y="579.3" width="4.0" height="1.4" fill="#a5a5a5" opacity="0.7"/><rect x="1748.9" y="576.1" width="16.7" height="10.9" rx="1.2" fill="#1a1a1a" stroke="#0c0c0c" stroke-width="0.6"/><rect x="1753.1" y="579.3" width="4.0" height="1.4" fill="#a5a5a5" opacity="0.7"/><rect x="1774.3" y="516.7" width="12.0" height="13.4" rx="1.2" fill="#1a1a1a" stroke="#0c0c0c" stroke-width="0.6"/><rect x="1777.3" y="520.7" width="4.0" height="1.4" fill="#a5a5a5" opacity="0.7"/><rect x="1787.7" y="516.7" width="12.0" height="13.4" rx="1.2" fill="#1a1a1a" stroke="#0c0c0c" stroke-width="0.6"/><rect x="1790.7" y="520.7" width="4.0" height="1.4" fill="#a5a5a5" opacity="0.7"/><rect x="1801.1" y="516.7" width="12.0" height="13.4" rx="1.2" fill="#1a1a1a" stroke="#0c0c0c" stroke-width="0.6"/><rect x="1804.1" y="520.7" width="4.0" height="1.4" fill="#a5a5a5" opacity="0.7"/><rect x="1774.3" y="531.5" width="12.0" height="13.4" rx="1.2" fill="#1a1a1a" stroke="#0c0c0c" stroke-width="0.6"/><rect x="1777.3" y="535.5" width="4.0" height="1.4" fill="#a5a5a5" opacity="0.7"/><rect x="1787.7" y="531.5" width="12.0" height="13.4" rx="1.2" fill="#1a1a1a" stroke="#0c0c0c" stroke-width="0.6"/><rect x="1790.7" y="535.5" width="4.0" height="1.4" fill="#a5a5a5" opacity="0.7"/><rect x="1801.1" y="531.5" width="12.0" height="13.4" rx="1.2" fill="#1a1a1a" stroke="#0c0c0c" stroke-width="0.6"/><rect x="1804.1" y="535.5" width="4.0" height="1.4" fill="#a5a5a5" opacity="0.7"/><rect x="1787.7" y="561.2" width="12.0" height="13.4" rx="1.2" fill="#1a1a1a" stroke="#0c0c0c" stroke-width="0.6"/><rect x="1790.7" y="565.3" width="4.0" height="1.4" fill="#a5a5a5" opacity="0.7"/><rect x="1774.3" y="576.1" width="12.0" height="10.9" rx="1.2" fill="#1a1a1a" stroke="#0c0c0c" stroke-width="0.6"/><rect x="1777.3" y="579.3" width="4.0" height="1.4" fill="#a5a5a5" opacity="0.7"/><rect x="1787.7" y="576.1" width="12.0" height="10.9" rx="1.2" fill="#1a1a1a" stroke="#0c0c0c" stroke-width="0.6"/><rect x="1790.7" y="579.3" width="4.0" height="1.4" fill="#a5a5a5" opacity="0.7"/><rect x="1801.1" y="576.1" width="12.0" height="10.9" rx="1.2" fill="#1a1a1a" stroke="#0c0c0c" stroke-width="0.6"/><rect x="1804.1" y="579.3" width="4.0" height="1.4" fill="#a5a5a5" opacity="0.7"/><rect x="1817.8" y="516.7" width="12.0" height="13.4" rx="1.2" fill="#1a1a1a" stroke="#0c0c0c" stroke-width="0.6"/><rect x="1820.7" y="520.7" width="4.0" height="1.4" fill="#a5a5a5" opacity="0.7"/><rect x="1831.2" y="516.7" width="12.0" height="13.4" rx="1.2" fill="#1a1a1a" stroke="#0c0c0c" stroke-width="0.6"/><rect x="1834.1" y="520.7" width="4.0" height="1.4" fill="#a5a5a5" opacity="0.7"/><rect x="1844.6" y="516.7" width="12.0" height="13.4" rx="1.2" fill="#1a1a1a" stroke="#0c0c0c" stroke-width="0.6"/><rect x="1847.6" y="520.7" width="4.0" height="1.4" fill="#a5a5a5" opacity="0.7"/><rect x="1858.0" y="516.7" width="12.0" height="13.4" rx="1.2" fill="#1a1a1a" stroke="#0c0c0c" stroke-width="0.6"/><rect x="1861.0" y="520.7" width="4.0" height="1.4" fill="#a5a5a5" opacity="0.7"/><rect x="1817.8" y="531.5" width="12.0" height="13.4" rx="1.2" fill="#1a1a1a" stroke="#0c0c0c" stroke-width="0.6"/><rect x="1820.7" y="535.5" width="4.0" height="1.4" fill="#a5a5a5" opacity="0.7"/><rect x="1831.2" y="531.5" width="12.0" height="13.4" rx="1.2" fill="#1a1a1a" stroke="#0c0c0c" stroke-width="0.6"/><rect x="1834.1" y="535.5" width="4.0" height="1.4" fill="#a5a5a5" opacity="0.7"/><rect x="1844.6" y="531.5" width="12.0" height="13.4" rx="1.2" fill="#1a1a1a" stroke="#0c0c0c" stroke-width="0.6"/><rect x="1847.6" y="535.5" width="4.0" height="1.4" fill="#a5a5a5" opacity="0.7"/><rect x="1858.0" y="531.5" width="12.0" height="13.4" rx="1.2" fill="#1a1a1a" stroke="#0c0c0c" stroke-width="0.6"/><rect x="1861.0" y="535.5" width="4.0" height="1.4" fill="#a5a5a5" opacity="0.7"/><rect x="1817.8" y="546.4" width="12.0" height="13.4" rx="1.2" fill="#1a1a1a" stroke="#0c0c0c" stroke-width="0.6"/><rect x="1820.7" y="550.4" width="4.0" height="1.4" fill="#a5a5a5" opacity="0.7"/><rect x="1831.2" y="546.4" width="12.0" height="13.4" rx="1.2" fill="#1a1a1a" stroke="#0c0c0c" stroke-width="0.6"/><rect x="1834.1" y="550.4" width="4.0" height="1.4" fill="#a5a5a5" opacity="0.7"/><rect x="1844.6" y="546.4" width="12.0" height="13.4" rx="1.2" fill="#1a1a1a" stroke="#0c0c0c" stroke-width="0.6"/><rect x="1847.6" y="550.4" width="4.0" height="1.4" fill="#a5a5a5" opacity="0.7"/><rect x="1858.0" y="546.4" width="12.0" height="13.4" rx="1.2" fill="#1a1a1a" stroke="#0c0c0c" stroke-width="0.6"/><rect x="1861.0" y="550.4" width="4.0" height="1.4" fill="#a5a5a5" opacity="0.7"/><rect x="1817.8" y="561.2" width="12.0" height="13.4" rx="1.2" fill="#1a1a1a" stroke="#0c0c0c" stroke-width="0.6"/><rect x="1820.7" y="565.3" width="4.0" height="1.4" fill="#a5a5a5" opacity="0.7"/><rect x="1831.2" y="561.2" width="12.0" height="13.4" rx="1.2" fill="#1a1a1a" stroke="#0c0c0c" stroke-width="0.6"/><rect x="1834.1" y="565.3" width="4.0" height="1.4" fill="#a5a5a5" opacity="0.7"/><rect x="1844.6" y="561.2" width="12.0" height="13.4" rx="1.2" fill="#1a1a1a" stroke="#0c0c0c" stroke-width="0.6"/><rect x="1847.6" y="565.3" width="4.0" height="1.4" fill="#a5a5a5" opacity="0.7"/><rect x="1858.0" y="561.2" width="12.0" height="13.4" rx="1.2" fill="#1a1a1a" stroke="#0c0c0c" stroke-width="0.6"/><rect x="1861.0" y="565.3" width="4.0" height="1.4" fill="#a5a5a5" opacity="0.7"/><rect x="1817.8" y="576.1" width="16.3" height="10.9" rx="1.2" fill="#1a1a1a" stroke="#0c0c0c" stroke-width="0.6"/><rect x="1821.8" y="579.3" width="4.0" height="1.4" fill="#a5a5a5" opacity="0.7"/><rect x="1835.5" y="576.1" width="16.3" height="10.9" rx="1.2" fill="#1a1a1a" stroke="#0c0c0c" stroke-width="0.6"/><rect x="1839.6" y="579.3" width="4.0" height="1.4" fill="#a5a5a5" opacity="0.7"/><rect x="1853.3" y="576.1" width="16.3" height="10.9" rx="1.2" fill="#1a1a1a" stroke="#0c0c0c" stroke-width="0.6"/><rect x="1857.3" y="579.3" width="4.0" height="1.4" fill="#a5a5a5" opacity="0.7"/><rect x="1777" y="504" width="34" height="4.5" rx="2" fill="#0a0a0a" stroke="#333" stroke-width="0.5"/><ellipse cx="1905" cy="591" rx="22" ry="4" fill="#8a7f99" opacity="0.35"/><path d="M1904.5 518.3C1918 518.3 1926.3 526.5 1926.8 540L1926.6 572C1926 586 1917 593.4 1904.2 593.4C1891.5 593.4 1882.5 586 1882 572L1881.6 540C1882.2 526.5 1891 518.3 1904.5 518.3Z" fill="url(#mouseG)"/><path d="M1883 545C1892 551 1916 551 1925.5 545" fill="none" stroke="#111" stroke-width="0.9"/><ellipse cx="1904.3" cy="529.5" rx="7.5" ry="8.5" fill="#171717"/><rect x="1901.6" y="523.5" width="5.4" height="12" rx="2.7" fill="#2e2e2e" stroke="#090909" stroke-width="0.8"/><circle cx="1904.5" cy="571" r="2.4" fill="#c4c4c4"/><rect x="1897.5" y="576" width="14" height="1.3" fill="#8f8f8f"/></g><g id="laptop"><polygon points="20.2,1652.4 214.8,1690.7 318.3,1650.8 318.3,1652.9 215.3,1693.3 19.7,1655.5" fill="#26272a"/><polygon points="141.0,1622.9 323.0,1643.1 316.8,1645.7 213.8,1683.4 21.7,1649.8" fill="url(#lapBase)" stroke="#d9dadb" stroke-width="1.5" stroke-linejoin="round"/><polygon points="20.7,1649.8 213.8,1683.4 214.8,1691.2 20.7,1654.5" fill="#b4b5b7"/><polygon points="20.7,1649.8 213.8,1683.4 213.8,1685.0 20.7,1651.3" fill="#e9e9ea"/><polygon points="213.8,1683.4 317.3,1645.1 318.3,1651.3 214.8,1691.2" fill="#c9cacc"/><polygon points="213.8,1683.4 317.3,1645.1 317.3,1646.7 213.8,1685.0" fill="#ececed"/><polygon points="263.5,1667.9 265.0,1667.3 265.0,1669.7 263.5,1670.2" fill="#3a3b3d"/><polygon points="269.7,1665.8 281.6,1661.4 281.6,1663.8 269.7,1668.2" fill="#3a3b3d"/><polygon points="284.7,1660.1 288.8,1658.6 288.8,1660.9 284.7,1662.5" fill="#3a3b3d"/><polygon points="291.4,1657.6 295.5,1656.0 295.5,1658.4 291.4,1659.9" fill="#3a3b3d"/><polygon points="298.1,1655.2 299.9,1654.6 299.9,1656.9 298.1,1657.6" fill="#3a3b3d"/><polygon points="301.8,1653.7 305.9,1652.1 305.9,1654.5 301.8,1656.0" fill="#3a3b3d"/><polygon points="308.0,1651.3 312.1,1649.8 312.1,1652.1 308.0,1653.7" fill="#3a3b3d"/><polygon points="313.7,1649.3 316.3,1648.3 316.3,1650.6 313.7,1651.6" fill="#3a3b3d"/><polygon points="117.0,1629.6 284.2,1644.6 246.4,1658.6 98.9,1638.4" fill="#2a2b2d"/><line x1="113.4" y1="1631.4" x2="276.6" y2="1647.4" stroke="#55575a" stroke-width="0.7"/><line x1="109.7" y1="1633.1" x2="269.0" y2="1650.2" stroke="#55575a" stroke-width="0.7"/><line x1="106.1" y1="1634.9" x2="261.5" y2="1653.0" stroke="#55575a" stroke-width="0.7"/><line x1="102.5" y1="1636.6" x2="253.9" y2="1655.8" stroke="#55575a" stroke-width="0.7"/><line x1="128.9" y1="1630.7" x2="109.4" y2="1639.8" stroke="#4a4c4f" stroke-width="0.6"/><line x1="140.9" y1="1631.8" x2="119.9" y2="1641.3" stroke="#4a4c4f" stroke-width="0.6"/><line x1="152.8" y1="1632.8" x2="130.5" y2="1642.7" stroke="#4a4c4f" stroke-width="0.6"/><line x1="164.7" y1="1633.9" x2="141.0" y2="1644.2" stroke="#4a4c4f" stroke-width="0.6"/><line x1="176.7" y1="1635.0" x2="151.5" y2="1645.6" stroke="#4a4c4f" stroke-width="0.6"/><line x1="188.6" y1="1636.0" x2="162.1" y2="1647.1" stroke="#4a4c4f" stroke-width="0.6"/><line x1="200.6" y1="1637.1" x2="172.6" y2="1648.5" stroke="#4a4c4f" stroke-width="0.6"/><line x1="212.5" y1="1638.2" x2="183.2" y2="1649.9" stroke="#4a4c4f" stroke-width="0.6"/><line x1="224.5" y1="1639.3" x2="193.7" y2="1651.4" stroke="#4a4c4f" stroke-width="0.6"/><line x1="236.4" y1="1640.3" x2="204.2" y2="1652.8" stroke="#4a4c4f" stroke-width="0.6"/><line x1="248.3" y1="1641.4" x2="214.8" y2="1654.3" stroke="#4a4c4f" stroke-width="0.6"/><line x1="260.3" y1="1642.5" x2="225.3" y2="1655.7" stroke="#4a4c4f" stroke-width="0.6"/><line x1="272.2" y1="1643.5" x2="235.8" y2="1657.2" stroke="#4a4c4f" stroke-width="0.6"/><polygon points="89.3,1654.5 121.6,1647.7 179.1,1654.5 152.2,1663.8" fill="#cfd0d2" stroke="#bcbdbf" stroke-width="0.8"/><polygon points="91.1,1661.7 113.9,1665.8 113.9,1667.4 91.1,1663.3" fill="#f4f4f4"/><polygon points="179.9,1502.8 353.5,1496.3 323.0,1642.0 141.0,1621.8" fill="#151617" stroke="#151617" stroke-width="3" stroke-linejoin="round"/><polyline points="355.1,1496.6 324.3,1643.1" fill="none" stroke="#8a8b8d" stroke-width="1"/><polygon points="181.7,1507.7 346.8,1502.5 318.6,1633.7 148.0,1618.2" fill="#2db3f5"/><g transform="translate(244.0 1568.7) rotate(0.0) skewX(-7.1) scale(0.486)"><clipPath id="zc3"><circle r="50"/></clipPath><g clip-path="url(#zc3)" fill="#ffffff"><path d="M-60 -60H60V-37.5Q0 -35.5 -60 -38.5Z"/><path d="M-60 -19L-44.3 -20.2Q-5 -24.5 40.5 -30.2L40.5 -28.6L-60 15.6Z"/><path d="M-19.7 15.4L60 -24.6V60.2Z"/><path d="M-60 17L7.9 44.2L9 60H-60Z"/></g></g><circle cx="257.5" cy="1502.5" r="0.9" fill="#555"/></g><g id="nvr"><polygon points="486.6,1608.4 622.5,1649.8 817.3,1605.8 817.3,1608.4 622.5,1653.4 485.5,1611.0" fill="#5d6b68" opacity="0.35"/><polygon points="487.1,1569.6 672.9,1549.9 815.8,1567.0 623.2,1599.6" fill="url(#nvrTop)" stroke="#262628" stroke-width="2" stroke-linejoin="round"/><polyline points="605.6,1594.4 795.8,1562.8" fill="none" stroke="#3a3a3d" stroke-width="1"/><polygon points="487.1,1570.1 622.7,1600.1 622.7,1649.3 487.1,1608.9" fill="#262628" stroke="#262628" stroke-width="1.5" stroke-linejoin="round"/><polygon points="603.0,1595.7 622.7,1600.1 622.7,1649.3 603.0,1643.3" fill="#2e2e30"/><line x1="509.4" y1="1583.5" x2="509.4" y2="1602.7" stroke="#0a0a0b" stroke-width="1.3"/><line x1="511.7" y1="1584.1" x2="511.7" y2="1603.1" stroke="#0a0a0b" stroke-width="1.3"/><line x1="514.1" y1="1584.7" x2="514.1" y2="1603.5" stroke="#0a0a0b" stroke-width="1.3"/><line x1="516.4" y1="1585.2" x2="516.4" y2="1604.0" stroke="#0a0a0b" stroke-width="1.3"/><line x1="518.8" y1="1585.8" x2="518.8" y2="1604.4" stroke="#0a0a0b" stroke-width="1.3"/><line x1="521.2" y1="1586.4" x2="521.2" y2="1604.8" stroke="#0a0a0b" stroke-width="1.3"/><line x1="523.5" y1="1586.9" x2="523.5" y2="1605.3" stroke="#0a0a0b" stroke-width="1.3"/><line x1="525.9" y1="1587.5" x2="525.9" y2="1605.7" stroke="#0a0a0b" stroke-width="1.3"/><line x1="528.3" y1="1588.0" x2="528.3" y2="1606.1" stroke="#0a0a0b" stroke-width="1.3"/><line x1="530.6" y1="1588.6" x2="530.6" y2="1606.5" stroke="#0a0a0b" stroke-width="1.3"/><line x1="533.0" y1="1589.2" x2="533.0" y2="1607.0" stroke="#0a0a0b" stroke-width="1.3"/><line x1="535.4" y1="1589.7" x2="535.4" y2="1607.4" stroke="#0a0a0b" stroke-width="1.3"/><line x1="537.7" y1="1590.3" x2="537.7" y2="1607.8" stroke="#0a0a0b" stroke-width="1.3"/><line x1="540.1" y1="1590.9" x2="540.1" y2="1608.3" stroke="#0a0a0b" stroke-width="1.3"/><line x1="542.4" y1="1591.4" x2="542.4" y2="1608.7" stroke="#0a0a0b" stroke-width="1.3"/><line x1="544.8" y1="1592.0" x2="544.8" y2="1609.1" stroke="#0a0a0b" stroke-width="1.3"/><line x1="547.2" y1="1592.5" x2="547.2" y2="1609.5" stroke="#0a0a0b" stroke-width="1.3"/><line x1="549.5" y1="1593.1" x2="549.5" y2="1610.0" stroke="#0a0a0b" stroke-width="1.3"/><line x1="551.9" y1="1593.7" x2="551.9" y2="1610.4" stroke="#0a0a0b" stroke-width="1.3"/><line x1="554.3" y1="1594.2" x2="554.3" y2="1610.8" stroke="#0a0a0b" stroke-width="1.3"/><line x1="556.6" y1="1594.8" x2="556.6" y2="1611.2" stroke="#0a0a0b" stroke-width="1.3"/><line x1="559.0" y1="1595.4" x2="559.0" y2="1611.7" stroke="#0a0a0b" stroke-width="1.3"/><line x1="561.3" y1="1595.9" x2="561.3" y2="1612.1" stroke="#0a0a0b" stroke-width="1.3"/><line x1="563.7" y1="1596.5" x2="563.7" y2="1612.5" stroke="#0a0a0b" stroke-width="1.3"/><ellipse cx="583.6" cy="1621.3" rx="6.5" ry="8" fill="#17171a" stroke="#3a3a3d" stroke-width="1"/><ellipse cx="583.6" cy="1621.3" rx="2.5" ry="3" fill="#333336"/><polygon points="623.2,1600.1 816.0,1567.5 816.6,1605.3 623.2,1649.3" fill="#1b1b1d" stroke="#1b1b1d" stroke-width="2" stroke-linejoin="round"/><polygon points="624.3,1601.1 815.8,1568.5 815.8,1579.4 624.3,1613.6" fill="#101012"/><polyline points="623.2,1600.1 816.0,1567.5" fill="none" stroke="#4a4a4e" stroke-width="0.9"/><polygon points="625.3,1614.6 795.8,1584.6 814.7,1578.9 815.3,1604.2 625.3,1647.2" fill="url(#nvrTex)"/><polygon points="795.1,1600.6 802.3,1599.1 802.3,1604.2 795.1,1605.8" fill="#c9c9c9"/><polygon points="795.8,1602.7 801.5,1601.4 801.5,1603.7 795.8,1605.0" fill="#1a1a1a"/><circle cx="796.6" cy="1578.6" r="0.9" fill="#6a6a70"/><circle cx="802.3" cy="1577.6" r="0.9" fill="#6a6a70"/><circle cx="808.0" cy="1576.6" r="0.9" fill="#6a6a70"/></g><g id="ap"><circle cx="1057" cy="1587.3" r="69.5" fill="url(#apG)"/><circle cx="1057" cy="1587.3" r="69" fill="none" stroke="#c9cccd" stroke-width="1" opacity="0.7"/><circle cx="1057" cy="1587.3" r="26.5" fill="url(#apC)" stroke="#6b8fe8" stroke-width="1.8"/><circle cx="1057" cy="1587.3" r="28.2" fill="none" stroke="#b9c8f3" stroke-width="1.2" opacity="0.8"/><ellipse cx="1057.2" cy="1588.6" rx="10.2" ry="9" fill="#ececee"/><g transform="translate(1057.2 1588.6) rotate(-12.0) skewX(0.0) scale(0.200)"><clipPath id="zc4"><circle r="50"/></clipPath><g clip-path="url(#zc4)" fill="#1e2a33"><path d="M-60 -60H60V-37.5Q0 -35.5 -60 -38.5Z"/><path d="M-60 -19L-44.3 -20.2Q-5 -24.5 40.5 -30.2L40.5 -28.6L-60 15.6Z"/><path d="M-19.7 15.4L60 -24.6V60.2Z"/><path d="M-60 17L7.9 44.2L9 60H-60Z"/></g></g></g><g id="camera"><path d="M1463.8 1510.0C1462.2 1503.1 1470.0 1501.8 1477.7 1504.3L1547.6 1523.8C1554.1 1526.3 1554.1 1535.4 1547.6 1539.3L1524.3 1539.3L1464.8 1518.6Z" fill="#f6f6f7"/><path d="M1470.5 1504.3L1525.6 1516.0L1545.0 1525.1L1534.7 1520.4L1521.7 1519.4L1490.7 1512.1L1484.2 1514.7L1481.6 1510.0Z" fill="#1d1d1f"/><path d="M1464.8 1517.8L1524.8 1538.0L1547.6 1538.5L1547.6 1540.6L1523.8 1540.6L1464.3 1519.9Z" fill="#d9dadc"/><polygon points="1531,1514.5 1540,1516 1546.5,1521.5 1544,1524 1536,1519.5" fill="#1a1a1c"/><path d="M1484.2 1525.1L1524.8 1539.3L1521.7 1553.5L1523.0 1571.6L1508.8 1589.8C1506.2 1597.5 1498.4 1598.8 1490.7 1594.9L1492.0 1563.9L1477.7 1548.3L1481.6 1535.4Z" fill="url(#camArm)"/><path d="M1477.7 1540.6Q1498.4 1553.5 1522.3 1552.2" fill="none" stroke="#c6c7c9" stroke-width="1.2"/><path d="M1493.3 1563.9Q1506.2 1571.6 1523.0 1569.6" fill="none" stroke="#c6c7c9" stroke-width="1.2"/><path d="M1516.6 1553.5L1522.3 1553.5L1523.0 1571.6L1508.8 1589.8L1504.9 1594.9L1511.4 1571.6Z" fill="#d4d5d7" opacity="0.8"/><path d="M1428.6 1545.8L1475.2 1546.3C1488.1 1547.0 1493.3 1553.5 1493.3 1563.9L1493.3 1594.9C1493.3 1610.5 1489.4 1619.5 1480.3 1622.1L1435.0 1633.2Z" fill="url(#camBody)"/><path d="M1434.3 1547.3Q1446.7 1571.6 1440.2 1605.3Q1438.9 1620.8 1435.3 1632.7" fill="none" stroke="#2f6fd0" stroke-width="1.6"/><path d="M1371.6 1547.8L1428.6 1545.2C1436.3 1546.3 1442.8 1563.9 1442.0 1584.6C1441.5 1610.5 1438.9 1628.6 1431.2 1634.3L1418.2 1636.9L1369.0 1623.9C1362.6 1621.3 1360.8 1615.6 1360.8 1607.9L1360.8 1561.3C1360.8 1552.2 1365.2 1548.3 1371.6 1547.8Z" fill="url(#camFront)"/><path d="M1371.6 1553.5L1407.9 1553.0C1415.6 1553.5 1418.2 1558.7 1418.2 1566.5L1416.9 1620.8C1416.1 1628.6 1411.7 1631.2 1405.3 1629.6L1371.6 1619.5C1366.5 1617.7 1365.2 1614.3 1365.2 1609.2L1365.2 1561.3C1365.2 1556.1 1367.8 1553.5 1371.6 1553.5Z" fill="#3a3a3c"/><ellipse cx="1391.8" cy="1591.8" rx="26" ry="29" fill="#1c1c1d"/><ellipse cx="1392.3" cy="1591.8" rx="20" ry="22.5" fill="url(#camLens)"/><ellipse cx="1393.9" cy="1588.5" rx="10" ry="11" fill="#77777b" opacity="0.8"/><ellipse cx="1391.8" cy="1615.6" rx="2.2" ry="2.4" fill="#8d8d90"/><circle cx="1371.1" cy="1560.0" r="2" fill="#0b0b0c"/><circle cx="1411.7" cy="1563.9" r="2" fill="#0b0b0c"/><circle cx="1369.6" cy="1615.6" r="2" fill="#0b0b0c"/><circle cx="1408.4" cy="1626.0" r="2" fill="#0b0b0c"/><rect x="1466.9" y="1585.1" width="6" height="15" fill="none" stroke="#444" stroke-width="0.7"/><line x1="1464.3" y1="1583.3" x2="1475.7" y2="1583.3" stroke="#666" stroke-width="0.6"/><line x1="1464.3" y1="1584.3" x2="1475.7" y2="1584.3" stroke="#666" stroke-width="0.6"/><line x1="1464.3" y1="1600.9" x2="1475.7" y2="1600.9" stroke="#666" stroke-width="0.6"/><line x1="1464.3" y1="1602.4" x2="1475.7" y2="1602.4" stroke="#666" stroke-width="0.6"/><line x1="1464.3" y1="1604.0" x2="1475.7" y2="1604.0" stroke="#666" stroke-width="0.6"/></g><g id="router"><polygon points="1770.6,1574.9 1771.7,1507.0 1773.2,1504.9 1775.6,1504.1 1776.6,1506.2 1777.6,1574.9" fill="url(#rtAnt)"/><polygon points="1797.5,1576.0 1800.0,1502.5 1801.9,1500.4 1805.0,1499.6 1806.3,1501.6 1806.6,1576.0" fill="url(#rtAnt)"/><polygon points="1831.9,1577.4 1834.0,1494.2 1836.0,1492.1 1839.3,1491.3 1840.8,1493.4 1841.8,1577.4" fill="url(#rtAnt)"/><polygon points="1874.9,1581.1 1877.3,1488.0 1879.6,1485.9 1883.3,1485.1 1884.9,1487.1 1886.1,1581.1" fill="url(#rtAnt)"/><polygon points="1877.4,1578.0 1885.3,1579.1 1885.3,1589.4 1875.4,1612.2 1867.1,1603.9" fill="#141516"/><polygon points="1755.3,1574.9 1878.5,1577.4 1883.2,1582.2 1840.2,1610.1 1771.8,1615.3 1712.8,1608.1 1691.1,1601.8" fill="url(#rtTop)"/><polygon points="1755.3,1574.9 1765.6,1575.3 1715.9,1604.9 1691.1,1601.8" fill="url(#rtHatch)"/><polyline points="1765.6,1575.5 1713.5,1605.6" fill="none" stroke="#8a8b8e" stroke-width="1.1"/><polygon points="1857.8,1577.4 1878.5,1577.8 1883.2,1582.6 1840.2,1610.1 1786.3,1612.2" fill="url(#rtHatch)"/><polygon points="1840.2,1610.1 1883.2,1582.6 1884.9,1589.8 1841.2,1637.0 1838.1,1636.0" fill="#232426"/><polygon points="1691.1,1601.8 1712.8,1608.1 1771.8,1615.3 1840.2,1610.1 1838.1,1636.0 1827.7,1633.9 1774.9,1625.7 1770.2,1617.4 1730.8,1618.8 1694.2,1610.5" fill="#151618"/><polygon points="1772.9,1617.4 1838.1,1613.2 1837.7,1633.9 1827.7,1632.9 1776.0,1624.6" fill="#0c0c0d"/><polygon points="1776.0,1621.5 1834.0,1618.4 1833.5,1628.8 1826.7,1629.8 1778.5,1623.6" fill="#1f2022"/><polyline points="1712.8,1608.5 1770.2,1616.3" fill="none" stroke="#0a0a0b" stroke-width="2.2"/><rect x="1715.0" y="1608.6" width="2.6" height="1.5" fill="#4f9cff" transform="rotate(8 1715.0 1608.6)"/><rect x="1721.6" y="1609.5" width="2.6" height="1.5" fill="#4f9cff" transform="rotate(8 1721.6 1609.5)"/><rect x="1728.3" y="1610.5" width="2.6" height="1.5" fill="#4f9cff" transform="rotate(8 1728.3 1610.5)"/><rect x="1735.0" y="1611.4" width="2.6" height="1.5" fill="#4f9cff" transform="rotate(8 1735.0 1611.4)"/><rect x="1741.6" y="1612.3" width="2.6" height="1.5" fill="#4f9cff" transform="rotate(8 1741.6 1612.3)"/><rect x="1748.3" y="1613.2" width="2.6" height="1.5" fill="#4f9cff" transform="rotate(8 1748.3 1613.2)"/><rect x="1754.9" y="1614.1" width="2.6" height="1.5" fill="#4f9cff" transform="rotate(8 1754.9 1614.1)"/><rect x="1761.6" y="1615.1" width="2.6" height="1.5" fill="#4f9cff" transform="rotate(8 1761.6 1615.1)"/><rect x="1767.7" y="1615.9" width="2.6" height="1.5" fill="#4f9cff" transform="rotate(8 1767.7 1615.9)"/></g></g>
</svg>
</body></html>
